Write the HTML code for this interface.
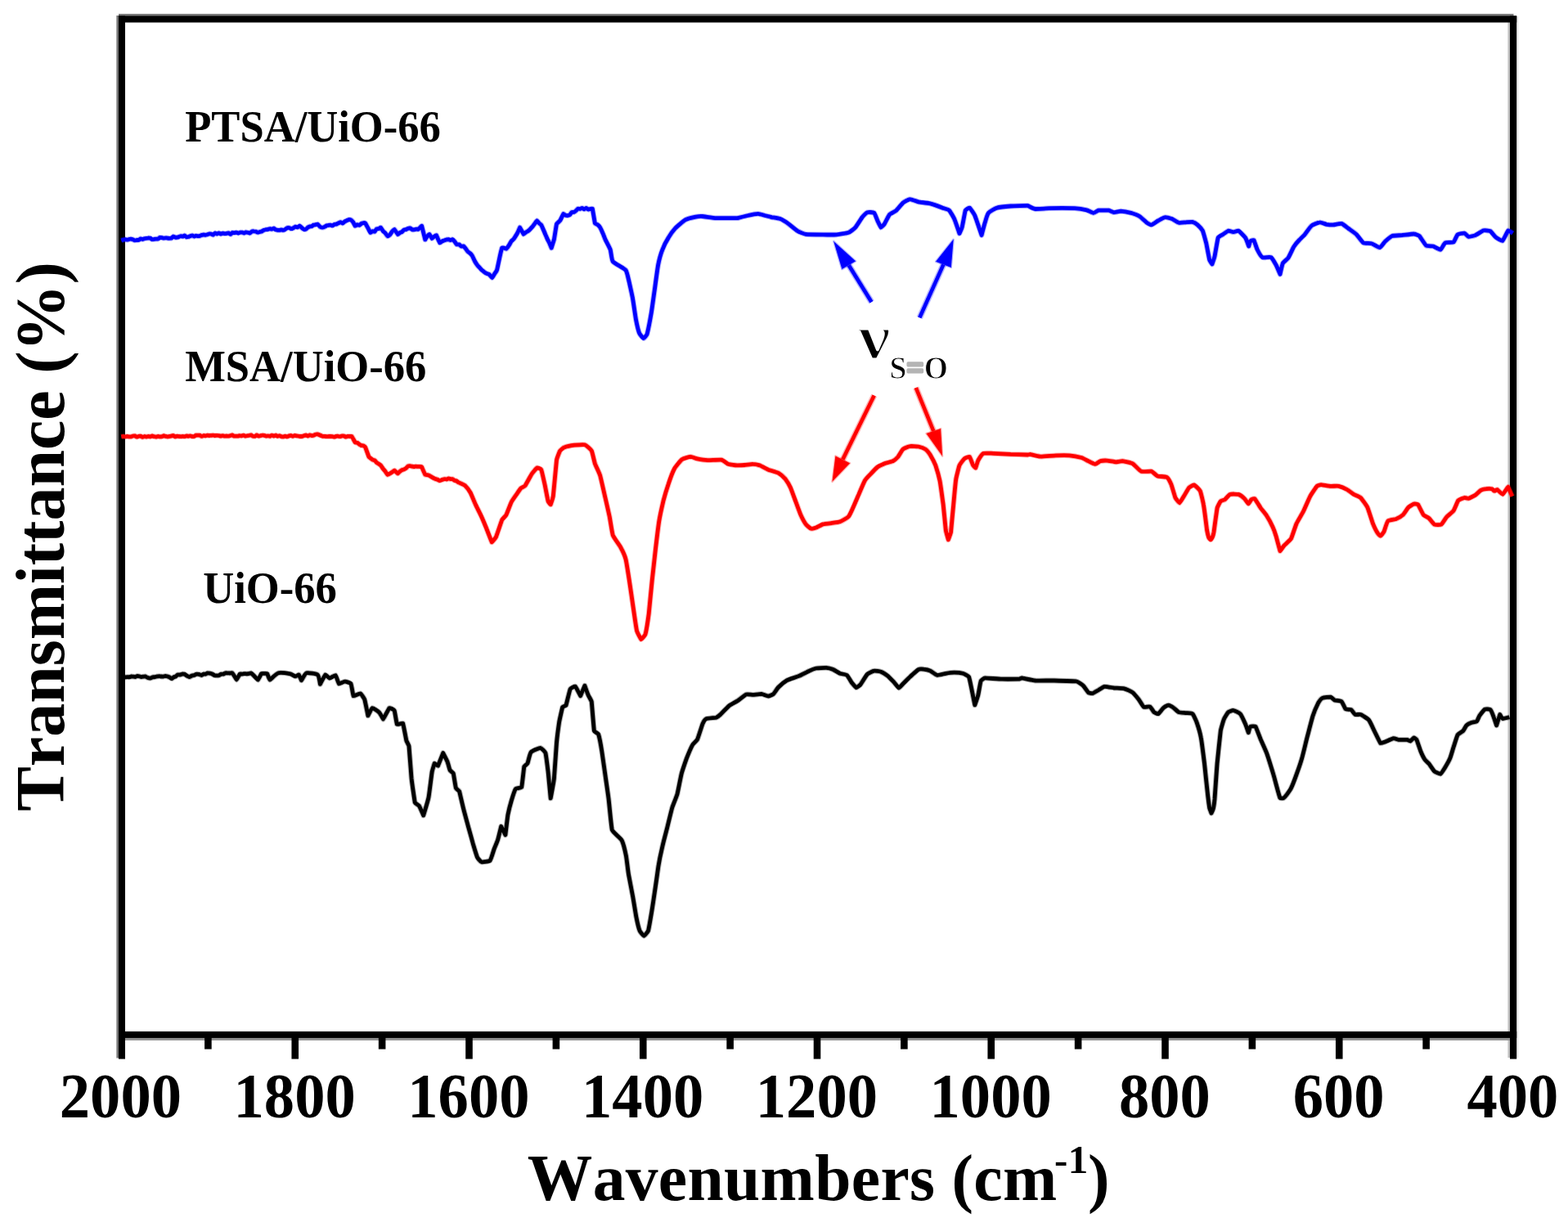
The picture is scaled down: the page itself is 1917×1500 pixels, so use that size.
<!DOCTYPE html>
<html lang="en"><head><meta charset="utf-8"><title>FTIR spectra</title>
<style>
html,body{margin:0;padding:0;background:#fff;}
body{width:1917px;height:1500px;overflow:hidden;}
svg{display:block;filter:blur(0.55px);}
text{font-family:"Liberation Serif","DejaVu Serif",serif;font-weight:bold;fill:#000;font-kerning:none;stroke-linejoin:round;}
.c{fill:none;stroke-linejoin:round;stroke-linecap:butt;}
</style></head><body>
<svg width="1917" height="1500" viewBox="0 0 1917 1500">
<rect x="0" y="0" width="1917" height="1500" fill="#fff"/>
<g id="fringe">
<rect x="142.4" y="19" width="3" height="1274.5" fill="#757575"/>
<rect x="145" y="16.9" width="1705.5" height="3" fill="#787878"/>
<rect x="1843.4" y="27" width="3" height="1266" fill="#c0c0c0"/>
<rect x="1854" y="20" width="2.7" height="1273" fill="#efefef"/>
<rect x="153" y="1268" width="1693" height="3.9" fill="#909090"/>
</g>
<g id="frame" fill="#000">
<rect x="145" y="19.4" width="8" height="1275.2"/>
<rect x="1846" y="19.4" width="8.2" height="1275.2"/>
<rect x="145" y="19.4" width="1709.2" height="8.1"/>
<rect x="145" y="1260.9" width="1709.2" height="8"/>
</g>
<g id="ticks" stroke="#000" stroke-width="8.60">
<line x1="254.38" y1="1265" x2="254.38" y2="1282.60"/>
<line x1="360.75" y1="1265" x2="360.75" y2="1294.60"/>
<line x1="467.12" y1="1265" x2="467.12" y2="1282.60"/>
<line x1="573.50" y1="1265" x2="573.50" y2="1294.60"/>
<line x1="679.88" y1="1265" x2="679.88" y2="1282.60"/>
<line x1="786.25" y1="1265" x2="786.25" y2="1294.60"/>
<line x1="892.62" y1="1265" x2="892.62" y2="1282.60"/>
<line x1="999.00" y1="1265" x2="999.00" y2="1294.60"/>
<line x1="1105.38" y1="1265" x2="1105.38" y2="1282.60"/>
<line x1="1211.75" y1="1265" x2="1211.75" y2="1294.60"/>
<line x1="1318.12" y1="1265" x2="1318.12" y2="1282.60"/>
<line x1="1424.50" y1="1265" x2="1424.50" y2="1294.60"/>
<line x1="1530.88" y1="1265" x2="1530.88" y2="1282.60"/>
<line x1="1637.25" y1="1265" x2="1637.25" y2="1294.60"/>
<line x1="1743.62" y1="1265" x2="1743.62" y2="1282.60"/>
</g>
<g id="black" class="c" stroke="#000">
<path stroke-width="6.80" stroke-opacity="0.30" d="M148.3 828.0C148.3 828.0 150.4 827.9 150.9 827.9C151.3 827.9 152.9 827.9 153.4 827.9C153.8 827.8 155.4 827.7 155.9 827.7C156.3 827.7 157.9 827.8 158.4 827.7C158.8 827.6 160.4 827.0 160.9 826.9C161.3 826.9 162.8 827.2 163.3 827.2C163.7 827.3 165.2 827.5 165.6 827.5C166.1 827.4 167.6 826.4 168.0 826.4C168.5 826.3 170.0 826.8 170.4 826.9C170.8 827.0 172.4 827.5 172.8 827.5C173.2 827.5 174.7 827.2 175.2 827.1C175.6 827.1 177.1 826.8 177.6 826.9C178.0 827.1 180.1 828.3 180.7 828.5C181.2 828.7 183.3 829.1 183.8 829.0C184.4 829.0 186.1 828.0 186.6 827.9C187.1 827.8 188.9 827.7 189.4 827.6C189.9 827.5 191.7 827.0 192.2 826.9C192.6 826.9 194.2 826.6 194.7 826.6C195.1 826.6 196.7 827.0 197.2 827.0C197.6 827.0 199.2 827.1 199.7 827.0C200.1 827.0 201.7 826.4 202.2 826.4C202.6 826.4 204.2 826.8 204.7 826.9C205.1 827.1 206.8 827.7 207.3 828.0C207.7 828.2 209.5 829.7 209.9 829.7C210.3 829.6 211.9 828.0 212.3 827.8C212.7 827.6 214.4 827.2 214.8 827.0C215.2 826.7 216.7 825.0 217.2 824.9C217.7 824.7 219.5 825.0 220.0 825.0C220.5 824.9 222.3 824.1 222.8 824.0C223.3 824.0 225.1 824.1 225.6 824.2C226.0 824.4 228.1 826.0 228.7 826.3C229.2 826.5 231.2 827.6 231.8 827.6C232.4 827.6 234.1 826.2 234.6 826.0C235.1 825.8 236.9 825.6 237.4 825.5C237.9 825.3 239.6 824.3 240.2 824.2C240.7 824.1 242.7 824.3 243.3 824.4C243.8 824.5 245.9 825.5 246.4 825.5C246.9 825.4 248.4 824.1 248.9 824.0C249.3 823.9 250.9 824.2 251.3 824.1C251.7 824.0 253.2 822.9 253.7 822.8C254.2 822.7 256.1 823.1 256.6 823.2C257.1 823.3 259.0 823.8 259.5 824.0C259.9 824.2 261.8 825.5 262.3 825.7C262.8 825.9 264.7 825.9 265.2 825.9C265.7 825.9 267.4 825.7 267.8 825.6C268.3 825.4 270.0 824.2 270.4 824.1C270.9 824.0 272.6 824.2 273.0 824.1C273.5 824.0 275.1 822.9 275.6 822.8C276.1 822.7 277.9 822.8 278.4 822.8C278.9 822.8 280.7 823.0 281.2 823.0C281.7 823.0 283.6 822.5 284.0 822.8C284.4 823.0 286.1 825.9 286.6 826.6C287.0 827.3 289.1 831.1 289.2 831.1C289.3 831.1 293.1 824.1 293.4 823.8C293.6 823.5 295.6 824.2 296.1 824.1C296.6 824.1 298.3 823.7 298.8 823.6C299.3 823.6 301.0 823.8 301.5 823.8C302.0 823.7 303.7 823.5 304.2 823.5C304.7 823.4 306.5 822.6 306.9 822.8C307.4 822.9 309.2 824.8 309.7 825.3C310.2 825.8 312.0 827.7 312.5 828.2C313.0 828.7 315.1 831.2 315.3 831.1C315.4 831.0 319.2 824.2 319.4 823.8C319.7 823.5 321.4 823.5 321.9 823.4C322.3 823.4 323.9 823.4 324.3 823.4C324.8 823.4 326.5 823.5 326.8 823.8C327.0 824.2 329.5 831.2 329.9 831.1C330.3 831.1 338.0 823.4 340.3 822.8C342.6 822.1 353.7 823.6 354.9 823.8C356.2 824.1 360.3 826.9 361.2 826.9C362.0 827.0 365.0 824.6 365.4 824.9C365.7 825.1 368.4 831.8 368.5 831.7C368.6 831.7 373.1 823.3 374.7 822.8C376.4 822.2 386.9 823.7 388.3 824.9C389.7 826.0 391.4 836.3 391.4 836.3C391.4 836.3 397.3 825.1 397.7 824.9C398.1 824.6 401.9 829.0 402.9 829.0C403.9 829.1 409.7 825.2 410.2 825.5C410.8 825.8 413.8 835.5 414.4 835.9C415.0 836.3 420.3 833.2 421.7 833.2C423.1 833.2 428.3 834.8 429.0 835.9C429.7 837.1 431.7 850.5 432.1 850.9C432.5 851.4 439.4 847.5 440.5 847.8C441.6 848.2 445.2 853.6 445.7 855.1C446.2 856.6 449.9 874.9 449.9 874.9C449.9 874.9 454.3 865.8 455.1 865.6C455.8 865.3 462.2 869.5 463.4 870.8C464.7 872.0 468.5 879.2 468.6 879.1C468.8 879.1 475.4 866.0 475.9 865.6C476.5 865.1 481.7 867.5 482.2 868.7C482.7 869.8 484.9 884.8 485.3 885.4C485.7 886.0 492.3 883.7 492.6 884.3C493.0 885.0 496.5 903.8 496.8 905.2C497.2 906.5 499.8 910.9 500.0 912.2C500.2 913.6 502.6 946.6 503.1 951.9C503.7 957.2 507.0 979.9 507.3 981.1C507.6 982.3 511.9 984.3 512.5 985.3C513.2 986.3 517.7 996.8 517.7 996.8C517.7 996.8 523.2 978.9 524.0 974.8C524.8 970.8 527.8 945.5 528.2 943.5C528.5 941.6 531.2 933.3 531.3 933.1C531.4 933.0 535.3 936.4 535.5 936.2C535.6 936.0 541.7 920.6 541.7 920.6C541.7 920.6 546.2 929.2 546.9 931.0C547.7 932.8 549.6 940.5 550.1 941.5C550.6 942.4 553.9 944.6 554.3 945.6C554.6 946.6 557.0 962.4 557.4 963.4C557.7 964.4 561.2 966.5 561.6 967.5C561.9 968.5 565.8 985.5 566.8 989.4C567.8 993.4 572.1 1009.0 573.0 1012.4C574.0 1015.8 577.4 1028.2 578.2 1031.2C579.1 1034.2 582.9 1046.6 583.5 1047.9C584.1 1049.2 587.4 1053.4 588.7 1053.7C590.0 1054.1 597.9 1053.3 599.1 1052.0C600.3 1050.8 603.6 1039.3 604.3 1037.4C605.0 1035.5 607.9 1028.9 608.5 1027.0C609.1 1025.1 612.7 1010.3 612.7 1010.3C612.7 1010.3 617.9 1020.7 617.9 1020.7C617.9 1020.7 620.5 998.8 621.0 995.7C621.6 992.7 624.4 981.7 625.2 979.0C626.0 976.3 629.6 965.5 630.4 964.4C631.2 963.3 637.3 963.4 637.7 962.3C638.1 961.3 640.6 938.3 640.8 937.3C641.1 936.3 644.6 934.1 645.0 933.1C645.5 932.1 647.7 921.3 649.2 919.5C650.6 917.8 659.4 914.3 660.7 914.3C661.9 914.4 666.4 919.1 666.9 920.6C667.4 922.1 669.6 939.4 670.1 943.5C670.5 947.7 673.2 975.9 673.2 975.9C673.2 975.9 676.9 956.2 677.4 951.9C677.8 947.5 680.1 912.6 680.5 908.1C680.9 903.5 683.1 886.4 683.6 883.0C684.2 879.6 687.5 865.0 687.8 864.3C688.1 863.5 691.6 862.9 692.0 862.2C692.3 861.4 696.6 843.5 697.2 842.3C697.7 841.2 702.9 838.8 703.4 839.2C704.0 839.6 709.7 850.7 709.7 850.7C709.7 850.7 714.9 838.2 714.9 838.2C714.9 838.2 718.4 848.1 719.1 849.6C719.7 851.2 723.0 856.3 723.3 858.0C723.5 859.6 726.1 892.3 726.4 893.5C726.6 894.6 731.2 896.5 731.6 897.6C732.0 898.8 735.2 914.7 735.8 918.5C736.4 922.3 739.2 942.5 740.0 947.7C740.7 953.0 743.5 971.7 744.1 976.9C744.8 982.2 747.4 1011.5 748.3 1014.5C749.3 1017.5 758.7 1024.5 760.2 1027.3C761.6 1030.0 764.7 1042.6 765.4 1046.1C766.1 1049.5 767.8 1064.9 768.5 1069.0C769.2 1073.1 772.9 1091.6 773.7 1096.1C774.5 1100.6 777.3 1118.1 777.9 1121.2C778.5 1124.2 781.5 1136.5 782.1 1137.9C782.6 1139.2 786.8 1144.1 787.3 1144.1C787.8 1144.1 792.0 1139.3 792.5 1137.9C792.9 1136.5 796.0 1119.1 796.7 1114.9C797.4 1110.8 800.1 1092.7 800.8 1087.8C801.6 1082.9 804.4 1062.4 805.0 1058.6C805.6 1054.8 808.3 1041.5 809.2 1037.7C810.0 1034.0 814.3 1017.2 815.5 1012.7C816.6 1008.2 820.8 990.7 821.7 987.6C822.6 984.6 827.1 974.0 828.0 970.9C828.8 967.9 832.3 949.4 833.2 945.9C834.1 942.5 838.3 930.2 839.4 927.1C840.6 924.1 846.0 911.8 846.8 910.4C847.5 909.1 851.9 905.3 852.6 903.9C853.3 902.5 858.4 886.4 858.9 885.1C859.4 883.9 861.8 879.4 863.1 878.9C864.3 878.3 874.5 877.5 875.6 877.2C876.7 876.8 880.0 874.2 880.9 873.4C881.7 872.6 889.6 864.3 891.3 862.9C893.0 861.6 899.9 857.9 901.7 856.7C903.6 855.5 910.8 849.5 912.2 849.0C913.6 848.4 919.0 849.4 920.5 849.4C922.0 849.3 929.4 848.2 930.9 848.3C932.5 848.5 938.1 851.0 939.3 851.0C940.5 851.0 944.6 849.1 945.6 848.3C946.5 847.5 950.5 841.3 951.8 840.0C953.1 838.7 960.1 832.8 962.2 831.6C964.4 830.5 974.5 827.4 976.8 826.4C979.2 825.4 987.9 820.8 989.4 820.2C990.8 819.5 996.1 817.3 997.7 817.0C999.3 816.7 1008.7 816.3 1010.2 816.4C1011.8 816.5 1017.1 817.9 1018.6 818.5C1020.0 819.1 1025.5 822.7 1026.9 823.3C1028.4 823.9 1034.1 824.4 1035.3 825.4C1036.5 826.3 1040.7 833.6 1041.5 834.8C1042.4 835.9 1046.1 840.5 1046.8 840.6C1047.4 840.7 1051.2 837.7 1052.0 836.8C1052.7 836.0 1059.1 825.5 1060.3 824.3C1061.5 823.1 1067.2 820.4 1068.7 820.2C1070.1 819.9 1075.6 820.7 1077.0 821.2C1078.4 821.7 1084.0 825.3 1085.4 826.4C1086.7 827.5 1091.5 832.5 1092.7 833.7C1093.8 835.0 1098.3 840.9 1098.9 841.0C1099.5 841.1 1103.2 836.7 1104.1 835.8C1105.1 834.9 1110.9 828.9 1112.5 827.5C1114.0 826.0 1121.9 819.0 1122.9 818.5C1123.9 817.9 1128.0 817.9 1129.2 818.1C1130.3 818.2 1136.1 819.5 1137.5 820.2C1138.9 820.8 1144.1 825.1 1145.9 825.4C1147.6 825.7 1154.4 823.6 1156.3 823.3C1158.2 823.0 1164.8 822.2 1166.7 822.2C1168.6 822.2 1175.7 822.9 1177.2 823.3C1178.6 823.7 1183.7 826.2 1184.5 827.5C1185.2 828.8 1187.1 838.6 1187.6 841.0C1188.1 843.5 1191.8 861.9 1191.8 861.9C1191.8 861.9 1195.4 851.7 1195.9 849.4C1196.5 847.1 1198.6 833.7 1199.1 832.7C1199.5 831.6 1203.1 829.0 1204.3 828.9C1205.4 828.8 1221.4 830.1 1225.2 830.2C1228.9 830.3 1245.4 830.2 1246.0 830.2C1246.6 830.1 1248.6 828.8 1249.2 828.9C1249.8 828.9 1262.9 831.7 1265.9 832.0C1269.0 832.2 1284.7 831.9 1288.9 832.0C1293.0 832.1 1314.2 832.7 1316.0 833.0C1317.7 833.3 1323.0 837.0 1324.3 838.2C1325.6 839.5 1329.8 846.0 1330.6 846.6C1331.3 847.2 1334.9 847.9 1335.8 847.6C1336.7 847.4 1341.8 844.2 1343.1 843.5C1344.4 842.7 1348.9 839.5 1350.4 839.3C1351.9 839.1 1359.8 840.7 1361.9 841.0C1364.0 841.2 1372.4 841.3 1374.4 841.8C1376.4 842.3 1383.2 845.4 1384.8 846.6C1386.4 847.8 1390.9 853.4 1392.1 854.9C1393.4 856.5 1397.4 863.7 1398.4 864.3C1399.4 865.0 1404.6 863.3 1405.7 863.9C1406.9 864.5 1410.1 869.9 1410.9 870.6C1411.7 871.2 1415.4 873.0 1416.1 872.7C1416.8 872.4 1421.4 866.2 1422.4 865.4C1423.4 864.6 1427.4 862.2 1428.7 862.2C1429.9 862.2 1433.9 864.7 1434.9 865.4C1436.0 866.1 1439.8 870.0 1441.2 870.6C1442.5 871.2 1448.0 871.4 1449.5 871.6C1451.0 871.8 1456.8 871.7 1457.9 872.7C1459.0 873.6 1462.4 881.1 1463.1 883.1C1463.8 885.1 1467.7 898.4 1468.3 901.9C1469.0 905.3 1471.8 927.5 1472.5 933.2C1473.1 938.8 1476.3 970.1 1476.7 972.8C1477.0 975.5 1478.5 986.7 1478.7 987.9C1479.0 989.0 1481.0 994.1 1481.0 994.1C1481.0 994.1 1483.1 989.5 1483.3 988.5C1483.6 987.4 1484.8 979.1 1485.0 977.0C1485.2 974.9 1487.5 940.3 1488.1 933.2C1488.8 926.0 1491.9 896.2 1492.3 893.5C1492.7 890.8 1495.8 880.6 1496.5 878.9C1497.1 877.3 1500.8 871.4 1501.7 870.6C1502.6 869.8 1506.8 868.3 1507.9 868.5C1509.1 868.7 1515.2 871.4 1516.3 872.7C1517.4 873.9 1521.8 883.4 1522.6 885.2C1523.4 887.0 1526.3 895.6 1526.3 895.6C1526.3 895.6 1528.1 888.9 1528.8 888.3C1529.5 887.8 1534.5 887.6 1535.1 888.3C1535.6 889.0 1540.2 901.2 1541.3 904.0C1542.5 906.8 1547.5 917.6 1548.6 920.7C1549.8 923.7 1555.1 941.0 1555.9 943.6C1556.7 946.2 1559.3 955.6 1560.0 958.3C1560.7 960.9 1564.8 975.2 1565.0 975.6C1565.3 976.1 1568.5 976.0 1569.2 975.6C1569.8 975.3 1572.7 972.0 1573.4 971.1C1574.0 970.3 1577.7 965.1 1578.4 963.6C1579.1 962.2 1583.9 950.0 1585.0 946.9C1586.1 943.9 1590.7 930.6 1591.7 926.9C1592.8 923.2 1597.2 904.7 1598.4 900.2C1599.6 895.7 1604.1 878.1 1605.1 875.1C1606.0 872.2 1611.1 860.5 1611.7 859.3C1612.4 858.1 1615.5 854.0 1616.8 853.4C1618.0 852.9 1625.7 851.9 1626.8 852.1C1627.9 852.3 1630.7 855.5 1631.8 856.0C1632.8 856.4 1638.9 856.7 1640.1 857.6C1641.3 858.6 1644.2 866.0 1645.1 866.8C1646.0 867.6 1650.8 867.0 1651.8 867.6C1652.9 868.2 1655.7 872.9 1656.8 873.5C1657.9 874.0 1662.4 873.0 1663.5 873.5C1664.6 873.9 1672.1 878.5 1673.5 880.2C1674.9 881.8 1679.0 891.1 1680.2 893.5C1681.4 895.9 1687.2 908.0 1687.7 908.5C1688.2 909.0 1692.5 907.2 1693.5 906.9C1694.6 906.5 1702.3 902.9 1703.6 902.7C1704.8 902.5 1709.0 904.2 1710.2 904.4C1711.5 904.5 1719.4 904.3 1720.3 904.4C1721.1 904.5 1723.8 906.2 1724.4 906.0C1725.1 905.8 1728.1 902.0 1728.6 901.9C1729.0 901.8 1731.6 903.7 1731.9 904.4C1732.3 905.0 1736.2 916.7 1736.9 918.5C1737.7 920.4 1741.2 927.5 1742.0 928.6C1742.7 929.6 1746.1 932.6 1747.0 933.6C1747.8 934.6 1752.5 941.8 1753.6 942.8C1754.7 943.7 1760.2 946.4 1761.1 946.1C1762.1 945.8 1766.0 939.3 1767.0 937.7C1767.9 936.2 1772.0 928.9 1772.8 926.9C1773.7 924.8 1776.2 915.9 1777.0 913.5C1777.8 911.1 1781.3 899.8 1782.0 898.5C1782.8 897.2 1787.7 894.5 1788.7 893.5C1789.7 892.5 1792.0 887.7 1792.9 886.8C1793.7 886.0 1797.6 883.9 1798.7 883.5C1799.8 883.0 1804.4 882.6 1805.4 881.8C1806.3 881.0 1808.0 876.3 1808.7 875.1C1809.5 874.0 1814.4 867.7 1815.4 867.1C1816.4 866.6 1821.3 866.9 1822.1 867.6C1822.9 868.4 1825.6 875.1 1826.2 876.8C1826.9 878.5 1829.6 886.8 1829.6 886.8C1829.6 886.8 1833.8 873.5 1833.8 873.5C1833.8 873.5 1836.2 878.2 1837.1 878.5C1838.0 878.7 1845.4 876.8 1845.4 876.8"/>
<path stroke-width="4.80" d="M148.3 828.0C148.3 828.0 150.4 827.9 150.9 827.9C151.3 827.9 152.9 827.9 153.4 827.9C153.8 827.8 155.4 827.7 155.9 827.7C156.3 827.7 157.9 827.8 158.4 827.7C158.8 827.6 160.4 827.0 160.9 826.9C161.3 826.9 162.8 827.2 163.3 827.2C163.7 827.3 165.2 827.5 165.6 827.5C166.1 827.4 167.6 826.4 168.0 826.4C168.5 826.3 170.0 826.8 170.4 826.9C170.8 827.0 172.4 827.5 172.8 827.5C173.2 827.5 174.7 827.2 175.2 827.1C175.6 827.1 177.1 826.8 177.6 826.9C178.0 827.1 180.1 828.3 180.7 828.5C181.2 828.7 183.3 829.1 183.8 829.0C184.4 829.0 186.1 828.0 186.6 827.9C187.1 827.8 188.9 827.7 189.4 827.6C189.9 827.5 191.7 827.0 192.2 826.9C192.6 826.9 194.2 826.6 194.7 826.6C195.1 826.6 196.7 827.0 197.2 827.0C197.6 827.0 199.2 827.1 199.7 827.0C200.1 827.0 201.7 826.4 202.2 826.4C202.6 826.4 204.2 826.8 204.7 826.9C205.1 827.1 206.8 827.7 207.3 828.0C207.7 828.2 209.5 829.7 209.9 829.7C210.3 829.6 211.9 828.0 212.3 827.8C212.7 827.6 214.4 827.2 214.8 827.0C215.2 826.7 216.7 825.0 217.2 824.9C217.7 824.7 219.5 825.0 220.0 825.0C220.5 824.9 222.3 824.1 222.8 824.0C223.3 824.0 225.1 824.1 225.6 824.2C226.0 824.4 228.1 826.0 228.7 826.3C229.2 826.5 231.2 827.6 231.8 827.6C232.4 827.6 234.1 826.2 234.6 826.0C235.1 825.8 236.9 825.6 237.4 825.5C237.9 825.3 239.6 824.3 240.2 824.2C240.7 824.1 242.7 824.3 243.3 824.4C243.8 824.5 245.9 825.5 246.4 825.5C246.9 825.4 248.4 824.1 248.9 824.0C249.3 823.9 250.9 824.2 251.3 824.1C251.7 824.0 253.2 822.9 253.7 822.8C254.2 822.7 256.1 823.1 256.6 823.2C257.1 823.3 259.0 823.8 259.5 824.0C259.9 824.2 261.8 825.5 262.3 825.7C262.8 825.9 264.7 825.9 265.2 825.9C265.7 825.9 267.4 825.7 267.8 825.6C268.3 825.4 270.0 824.2 270.4 824.1C270.9 824.0 272.6 824.2 273.0 824.1C273.5 824.0 275.1 822.9 275.6 822.8C276.1 822.7 277.9 822.8 278.4 822.8C278.9 822.8 280.7 823.0 281.2 823.0C281.7 823.0 283.6 822.5 284.0 822.8C284.4 823.0 286.1 825.9 286.6 826.6C287.0 827.3 289.1 831.1 289.2 831.1C289.3 831.1 293.1 824.1 293.4 823.8C293.6 823.5 295.6 824.2 296.1 824.1C296.6 824.1 298.3 823.7 298.8 823.6C299.3 823.6 301.0 823.8 301.5 823.8C302.0 823.7 303.7 823.5 304.2 823.5C304.7 823.4 306.5 822.6 306.9 822.8C307.4 822.9 309.2 824.8 309.7 825.3C310.2 825.8 312.0 827.7 312.5 828.2C313.0 828.7 315.1 831.2 315.3 831.1C315.4 831.0 319.2 824.2 319.4 823.8C319.7 823.5 321.4 823.5 321.9 823.4C322.3 823.4 323.9 823.4 324.3 823.4C324.8 823.4 326.5 823.5 326.8 823.8C327.0 824.2 329.5 831.2 329.9 831.1C330.3 831.1 338.0 823.4 340.3 822.8C342.6 822.1 353.7 823.6 354.9 823.8C356.2 824.1 360.3 826.9 361.2 826.9C362.0 827.0 365.0 824.6 365.4 824.9C365.7 825.1 368.4 831.8 368.5 831.7C368.6 831.7 373.1 823.3 374.7 822.8C376.4 822.2 386.9 823.7 388.3 824.9C389.7 826.0 391.4 836.3 391.4 836.3C391.4 836.3 397.3 825.1 397.7 824.9C398.1 824.6 401.9 829.0 402.9 829.0C403.9 829.1 409.7 825.2 410.2 825.5C410.8 825.8 413.8 835.5 414.4 835.9C415.0 836.3 420.3 833.2 421.7 833.2C423.1 833.2 428.3 834.8 429.0 835.9C429.7 837.1 431.7 850.5 432.1 850.9C432.5 851.4 439.4 847.5 440.5 847.8C441.6 848.2 445.2 853.6 445.7 855.1C446.2 856.6 449.9 874.9 449.9 874.9C449.9 874.9 454.3 865.8 455.1 865.6C455.8 865.3 462.2 869.5 463.4 870.8C464.7 872.0 468.5 879.2 468.6 879.1C468.8 879.1 475.4 866.0 475.9 865.6C476.5 865.1 481.7 867.5 482.2 868.7C482.7 869.8 484.9 884.8 485.3 885.4C485.7 886.0 492.3 883.7 492.6 884.3C493.0 885.0 496.5 903.8 496.8 905.2C497.2 906.5 499.8 910.9 500.0 912.2C500.2 913.6 502.6 946.6 503.1 951.9C503.7 957.2 507.0 979.9 507.3 981.1C507.6 982.3 511.9 984.3 512.5 985.3C513.2 986.3 517.7 996.8 517.7 996.8C517.7 996.8 523.2 978.9 524.0 974.8C524.8 970.8 527.8 945.5 528.2 943.5C528.5 941.6 531.2 933.3 531.3 933.1C531.4 933.0 535.3 936.4 535.5 936.2C535.6 936.0 541.7 920.6 541.7 920.6C541.7 920.6 546.2 929.2 546.9 931.0C547.7 932.8 549.6 940.5 550.1 941.5C550.6 942.4 553.9 944.6 554.3 945.6C554.6 946.6 557.0 962.4 557.4 963.4C557.7 964.4 561.2 966.5 561.6 967.5C561.9 968.5 565.8 985.5 566.8 989.4C567.8 993.4 572.1 1009.0 573.0 1012.4C574.0 1015.8 577.4 1028.2 578.2 1031.2C579.1 1034.2 582.9 1046.6 583.5 1047.9C584.1 1049.2 587.4 1053.4 588.7 1053.7C590.0 1054.1 597.9 1053.3 599.1 1052.0C600.3 1050.8 603.6 1039.3 604.3 1037.4C605.0 1035.5 607.9 1028.9 608.5 1027.0C609.1 1025.1 612.7 1010.3 612.7 1010.3C612.7 1010.3 617.9 1020.7 617.9 1020.7C617.9 1020.7 620.5 998.8 621.0 995.7C621.6 992.7 624.4 981.7 625.2 979.0C626.0 976.3 629.6 965.5 630.4 964.4C631.2 963.3 637.3 963.4 637.7 962.3C638.1 961.3 640.6 938.3 640.8 937.3C641.1 936.3 644.6 934.1 645.0 933.1C645.5 932.1 647.7 921.3 649.2 919.5C650.6 917.8 659.4 914.3 660.7 914.3C661.9 914.4 666.4 919.1 666.9 920.6C667.4 922.1 669.6 939.4 670.1 943.5C670.5 947.7 673.2 975.9 673.2 975.9C673.2 975.9 676.9 956.2 677.4 951.9C677.8 947.5 680.1 912.6 680.5 908.1C680.9 903.5 683.1 886.4 683.6 883.0C684.2 879.6 687.5 865.0 687.8 864.3C688.1 863.5 691.6 862.9 692.0 862.2C692.3 861.4 696.6 843.5 697.2 842.3C697.7 841.2 702.9 838.8 703.4 839.2C704.0 839.6 709.7 850.7 709.7 850.7C709.7 850.7 714.9 838.2 714.9 838.2C714.9 838.2 718.4 848.1 719.1 849.6C719.7 851.2 723.0 856.3 723.3 858.0C723.5 859.6 726.1 892.3 726.4 893.5C726.6 894.6 731.2 896.5 731.6 897.6C732.0 898.8 735.2 914.7 735.8 918.5C736.4 922.3 739.2 942.5 740.0 947.7C740.7 953.0 743.5 971.7 744.1 976.9C744.8 982.2 747.4 1011.5 748.3 1014.5C749.3 1017.5 758.7 1024.5 760.2 1027.3C761.6 1030.0 764.7 1042.6 765.4 1046.1C766.1 1049.5 767.8 1064.9 768.5 1069.0C769.2 1073.1 772.9 1091.6 773.7 1096.1C774.5 1100.6 777.3 1118.1 777.9 1121.2C778.5 1124.2 781.5 1136.5 782.1 1137.9C782.6 1139.2 786.8 1144.1 787.3 1144.1C787.8 1144.1 792.0 1139.3 792.5 1137.9C792.9 1136.5 796.0 1119.1 796.7 1114.9C797.4 1110.8 800.1 1092.7 800.8 1087.8C801.6 1082.9 804.4 1062.4 805.0 1058.6C805.6 1054.8 808.3 1041.5 809.2 1037.7C810.0 1034.0 814.3 1017.2 815.5 1012.7C816.6 1008.2 820.8 990.7 821.7 987.6C822.6 984.6 827.1 974.0 828.0 970.9C828.8 967.9 832.3 949.4 833.2 945.9C834.1 942.5 838.3 930.2 839.4 927.1C840.6 924.1 846.0 911.8 846.8 910.4C847.5 909.1 851.9 905.3 852.6 903.9C853.3 902.5 858.4 886.4 858.9 885.1C859.4 883.9 861.8 879.4 863.1 878.9C864.3 878.3 874.5 877.5 875.6 877.2C876.7 876.8 880.0 874.2 880.9 873.4C881.7 872.6 889.6 864.3 891.3 862.9C893.0 861.6 899.9 857.9 901.7 856.7C903.6 855.5 910.8 849.5 912.2 849.0C913.6 848.4 919.0 849.4 920.5 849.4C922.0 849.3 929.4 848.2 930.9 848.3C932.5 848.5 938.1 851.0 939.3 851.0C940.5 851.0 944.6 849.1 945.6 848.3C946.5 847.5 950.5 841.3 951.8 840.0C953.1 838.7 960.1 832.8 962.2 831.6C964.4 830.5 974.5 827.4 976.8 826.4C979.2 825.4 987.9 820.8 989.4 820.2C990.8 819.5 996.1 817.3 997.7 817.0C999.3 816.7 1008.7 816.3 1010.2 816.4C1011.8 816.5 1017.1 817.9 1018.6 818.5C1020.0 819.1 1025.5 822.7 1026.9 823.3C1028.4 823.9 1034.1 824.4 1035.3 825.4C1036.5 826.3 1040.7 833.6 1041.5 834.8C1042.4 835.9 1046.1 840.5 1046.8 840.6C1047.4 840.7 1051.2 837.7 1052.0 836.8C1052.7 836.0 1059.1 825.5 1060.3 824.3C1061.5 823.1 1067.2 820.4 1068.7 820.2C1070.1 819.9 1075.6 820.7 1077.0 821.2C1078.4 821.7 1084.0 825.3 1085.4 826.4C1086.7 827.5 1091.5 832.5 1092.7 833.7C1093.8 835.0 1098.3 840.9 1098.9 841.0C1099.5 841.1 1103.2 836.7 1104.1 835.8C1105.1 834.9 1110.9 828.9 1112.5 827.5C1114.0 826.0 1121.9 819.0 1122.9 818.5C1123.9 817.9 1128.0 817.9 1129.2 818.1C1130.3 818.2 1136.1 819.5 1137.5 820.2C1138.9 820.8 1144.1 825.1 1145.9 825.4C1147.6 825.7 1154.4 823.6 1156.3 823.3C1158.2 823.0 1164.8 822.2 1166.7 822.2C1168.6 822.2 1175.7 822.9 1177.2 823.3C1178.6 823.7 1183.7 826.2 1184.5 827.5C1185.2 828.8 1187.1 838.6 1187.6 841.0C1188.1 843.5 1191.8 861.9 1191.8 861.9C1191.8 861.9 1195.4 851.7 1195.9 849.4C1196.5 847.1 1198.6 833.7 1199.1 832.7C1199.5 831.6 1203.1 829.0 1204.3 828.9C1205.4 828.8 1221.4 830.1 1225.2 830.2C1228.9 830.3 1245.4 830.2 1246.0 830.2C1246.6 830.1 1248.6 828.8 1249.2 828.9C1249.8 828.9 1262.9 831.7 1265.9 832.0C1269.0 832.2 1284.7 831.9 1288.9 832.0C1293.0 832.1 1314.2 832.7 1316.0 833.0C1317.7 833.3 1323.0 837.0 1324.3 838.2C1325.6 839.5 1329.8 846.0 1330.6 846.6C1331.3 847.2 1334.9 847.9 1335.8 847.6C1336.7 847.4 1341.8 844.2 1343.1 843.5C1344.4 842.7 1348.9 839.5 1350.4 839.3C1351.9 839.1 1359.8 840.7 1361.9 841.0C1364.0 841.2 1372.4 841.3 1374.4 841.8C1376.4 842.3 1383.2 845.4 1384.8 846.6C1386.4 847.8 1390.9 853.4 1392.1 854.9C1393.4 856.5 1397.4 863.7 1398.4 864.3C1399.4 865.0 1404.6 863.3 1405.7 863.9C1406.9 864.5 1410.1 869.9 1410.9 870.6C1411.7 871.2 1415.4 873.0 1416.1 872.7C1416.8 872.4 1421.4 866.2 1422.4 865.4C1423.4 864.6 1427.4 862.2 1428.7 862.2C1429.9 862.2 1433.9 864.7 1434.9 865.4C1436.0 866.1 1439.8 870.0 1441.2 870.6C1442.5 871.2 1448.0 871.4 1449.5 871.6C1451.0 871.8 1456.8 871.7 1457.9 872.7C1459.0 873.6 1462.4 881.1 1463.1 883.1C1463.8 885.1 1467.7 898.4 1468.3 901.9C1469.0 905.3 1471.8 927.5 1472.5 933.2C1473.1 938.8 1476.3 970.1 1476.7 972.8C1477.0 975.5 1478.5 986.7 1478.7 987.9C1479.0 989.0 1481.0 994.1 1481.0 994.1C1481.0 994.1 1483.1 989.5 1483.3 988.5C1483.6 987.4 1484.8 979.1 1485.0 977.0C1485.2 974.9 1487.5 940.3 1488.1 933.2C1488.8 926.0 1491.9 896.2 1492.3 893.5C1492.7 890.8 1495.8 880.6 1496.5 878.9C1497.1 877.3 1500.8 871.4 1501.7 870.6C1502.6 869.8 1506.8 868.3 1507.9 868.5C1509.1 868.7 1515.2 871.4 1516.3 872.7C1517.4 873.9 1521.8 883.4 1522.6 885.2C1523.4 887.0 1526.3 895.6 1526.3 895.6C1526.3 895.6 1528.1 888.9 1528.8 888.3C1529.5 887.8 1534.5 887.6 1535.1 888.3C1535.6 889.0 1540.2 901.2 1541.3 904.0C1542.5 906.8 1547.5 917.6 1548.6 920.7C1549.8 923.7 1555.1 941.0 1555.9 943.6C1556.7 946.2 1559.3 955.6 1560.0 958.3C1560.7 960.9 1564.8 975.2 1565.0 975.6C1565.3 976.1 1568.5 976.0 1569.2 975.6C1569.8 975.3 1572.7 972.0 1573.4 971.1C1574.0 970.3 1577.7 965.1 1578.4 963.6C1579.1 962.2 1583.9 950.0 1585.0 946.9C1586.1 943.9 1590.7 930.6 1591.7 926.9C1592.8 923.2 1597.2 904.7 1598.4 900.2C1599.6 895.7 1604.1 878.1 1605.1 875.1C1606.0 872.2 1611.1 860.5 1611.7 859.3C1612.4 858.1 1615.5 854.0 1616.8 853.4C1618.0 852.9 1625.7 851.9 1626.8 852.1C1627.9 852.3 1630.7 855.5 1631.8 856.0C1632.8 856.4 1638.9 856.7 1640.1 857.6C1641.3 858.6 1644.2 866.0 1645.1 866.8C1646.0 867.6 1650.8 867.0 1651.8 867.6C1652.9 868.2 1655.7 872.9 1656.8 873.5C1657.9 874.0 1662.4 873.0 1663.5 873.5C1664.6 873.9 1672.1 878.5 1673.5 880.2C1674.9 881.8 1679.0 891.1 1680.2 893.5C1681.4 895.9 1687.2 908.0 1687.7 908.5C1688.2 909.0 1692.5 907.2 1693.5 906.9C1694.6 906.5 1702.3 902.9 1703.6 902.7C1704.8 902.5 1709.0 904.2 1710.2 904.4C1711.5 904.5 1719.4 904.3 1720.3 904.4C1721.1 904.5 1723.8 906.2 1724.4 906.0C1725.1 905.8 1728.1 902.0 1728.6 901.9C1729.0 901.8 1731.6 903.7 1731.9 904.4C1732.3 905.0 1736.2 916.7 1736.9 918.5C1737.7 920.4 1741.2 927.5 1742.0 928.6C1742.7 929.6 1746.1 932.6 1747.0 933.6C1747.8 934.6 1752.5 941.8 1753.6 942.8C1754.7 943.7 1760.2 946.4 1761.1 946.1C1762.1 945.8 1766.0 939.3 1767.0 937.7C1767.9 936.2 1772.0 928.9 1772.8 926.9C1773.7 924.8 1776.2 915.9 1777.0 913.5C1777.8 911.1 1781.3 899.8 1782.0 898.5C1782.8 897.2 1787.7 894.5 1788.7 893.5C1789.7 892.5 1792.0 887.7 1792.9 886.8C1793.7 886.0 1797.6 883.9 1798.7 883.5C1799.8 883.0 1804.4 882.6 1805.4 881.8C1806.3 881.0 1808.0 876.3 1808.7 875.1C1809.5 874.0 1814.4 867.7 1815.4 867.1C1816.4 866.6 1821.3 866.9 1822.1 867.6C1822.9 868.4 1825.6 875.1 1826.2 876.8C1826.9 878.5 1829.6 886.8 1829.6 886.8C1829.6 886.8 1833.8 873.5 1833.8 873.5C1833.8 873.5 1836.2 878.2 1837.1 878.5C1838.0 878.7 1845.4 876.8 1845.4 876.8"/>
</g>
<g id="red" class="c" stroke="#ff0000">
<path stroke-width="6.80" stroke-opacity="0.30" d="M148.3 533.8C148.3 533.8 150.3 533.4 150.7 533.4C151.1 533.4 152.6 533.8 153.1 533.8C153.5 533.9 155.0 533.5 155.4 533.5C155.9 533.5 157.4 533.9 157.8 533.9C158.2 533.9 159.7 534.0 160.1 533.9C160.6 533.8 162.1 533.1 162.5 533.0C162.9 532.9 164.4 532.8 164.9 532.9C165.3 533.0 166.8 534.2 167.2 534.2C167.7 534.2 169.2 533.3 169.6 533.3C170.0 533.2 171.5 533.1 171.9 533.2C172.3 533.3 173.8 534.4 174.3 534.4C174.7 534.4 176.2 533.6 176.7 533.5C177.1 533.5 178.6 534.1 179.0 534.1C179.4 534.1 180.9 533.5 181.4 533.5C181.8 533.5 183.3 533.8 183.7 533.8C184.2 533.7 185.6 533.0 186.1 533.0C186.5 532.9 188.0 533.6 188.4 533.7C188.9 533.8 190.4 534.1 190.8 534.1C191.2 534.0 192.7 533.5 193.2 533.5C193.6 533.5 195.1 533.8 195.5 533.8C195.9 533.8 197.5 533.8 197.9 533.7C198.3 533.6 199.8 532.7 200.2 532.7C200.7 532.7 202.2 533.3 202.6 533.4C203.0 533.5 204.5 533.8 204.9 533.8C205.3 533.8 206.8 533.5 207.2 533.5C207.6 533.4 209.1 533.0 209.6 533.0C210.0 532.9 211.5 532.4 211.9 532.5C212.3 532.6 213.8 533.7 214.2 533.8C214.6 533.8 216.1 533.1 216.5 533.1C216.9 533.1 218.4 533.4 218.8 533.5C219.2 533.5 220.7 533.7 221.1 533.7C221.6 533.7 223.0 533.4 223.5 533.4C223.9 533.4 225.4 533.7 225.8 533.7C226.2 533.6 227.7 532.8 228.1 532.8C228.5 532.8 230.0 533.4 230.4 533.4C230.9 533.4 232.3 532.8 232.7 532.8C233.2 532.8 234.6 533.5 235.1 533.5C235.5 533.6 237.0 533.5 237.4 533.4C237.8 533.3 239.3 532.2 239.7 532.1C240.1 532.0 241.6 532.1 242.0 532.1C242.4 532.2 243.9 532.1 244.3 532.2C244.7 532.3 246.2 533.4 246.6 533.4C247.1 533.4 248.6 532.6 249.0 532.5C249.4 532.5 250.9 532.8 251.3 532.8C251.7 532.8 253.2 532.2 253.6 532.2C254.0 532.2 255.5 532.5 255.9 532.5C256.3 532.5 257.8 532.3 258.2 532.3C258.7 532.2 260.1 532.2 260.6 532.2C261.0 532.2 262.5 532.5 262.9 532.5C263.3 532.5 264.8 532.3 265.2 532.3C265.6 532.3 267.1 532.4 267.5 532.5C267.9 532.6 269.4 533.0 269.8 533.0C270.3 533.0 271.7 532.7 272.2 532.7C272.6 532.7 274.1 533.1 274.5 533.1C274.9 533.1 276.4 533.0 276.8 533.0C277.2 533.0 278.7 533.2 279.1 533.2C279.5 533.2 281.0 532.8 281.4 532.7C281.8 532.6 283.3 531.9 283.7 531.9C284.2 532.0 285.7 532.9 286.1 533.1C286.5 533.2 288.0 533.2 288.4 533.2C288.8 533.2 290.3 533.2 290.7 533.2C291.1 533.1 292.6 532.7 293.0 532.6C293.4 532.6 294.9 532.9 295.3 532.9C295.8 532.8 297.2 532.1 297.7 532.1C298.1 532.1 299.6 533.0 300.0 533.1C300.4 533.2 301.9 532.8 302.3 532.7C302.7 532.6 304.2 532.3 304.6 532.3C305.0 532.2 306.5 531.8 306.9 531.9C307.3 532.0 308.8 533.1 309.2 533.2C309.6 533.3 311.2 533.5 311.6 533.4C312.0 533.3 313.4 532.0 313.9 532.0C314.3 532.0 315.8 533.1 316.2 533.2C316.6 533.2 318.1 532.6 318.5 532.6C318.9 532.5 320.4 532.2 320.8 532.2C321.3 532.1 322.7 532.3 323.2 532.4C323.6 532.5 325.1 533.1 325.5 533.2C325.9 533.2 327.4 532.7 327.8 532.8C328.2 532.8 329.7 533.5 330.1 533.4C330.5 533.3 332.0 532.1 332.4 532.1C332.9 532.1 334.3 533.0 334.7 533.0C335.2 533.1 336.6 532.1 337.1 532.2C337.5 532.2 339.0 533.2 339.4 533.3C339.8 533.3 341.3 532.7 341.7 532.7C342.1 532.7 343.6 533.5 344.0 533.6C344.4 533.7 345.9 533.9 346.3 533.8C346.8 533.8 348.2 533.1 348.7 533.1C349.1 533.1 350.5 533.9 351.0 533.9C351.4 533.9 352.9 533.0 353.3 532.8C353.7 532.7 355.2 532.5 355.6 532.5C356.0 532.5 357.5 533.4 357.9 533.4C358.4 533.4 359.8 532.5 360.3 532.5C360.7 532.4 362.2 532.7 362.6 532.8C363.0 532.9 364.5 533.1 364.9 533.2C365.3 533.2 366.8 533.5 367.2 533.5C367.6 533.5 369.1 533.5 369.5 533.4C369.9 533.3 371.5 532.6 371.9 532.5C372.3 532.4 373.8 532.0 374.2 532.0C374.6 532.1 376.1 533.1 376.6 533.0C377.0 533.0 378.5 531.9 378.9 531.8C379.4 531.8 380.8 532.5 381.3 532.6C381.7 532.6 383.2 532.3 383.6 532.1C384.0 532.0 385.5 531.1 386.0 531.0C386.4 530.9 387.9 530.8 388.3 530.9C388.7 531.0 390.9 531.8 391.4 532.1C392.0 532.3 394.2 533.3 394.6 533.4C395.0 533.5 396.5 533.4 396.9 533.4C397.4 533.4 398.9 533.6 399.3 533.6C399.7 533.6 401.2 533.6 401.7 533.5C402.1 533.5 403.6 533.5 404.0 533.5C404.4 533.5 406.0 533.5 406.4 533.6C406.8 533.6 408.3 534.1 408.8 534.1C409.2 534.1 410.7 533.5 411.1 533.4C411.5 533.3 413.1 533.2 413.5 533.3C413.9 533.3 415.4 533.8 415.8 533.7C416.3 533.7 417.8 533.0 418.2 533.0C418.6 532.9 420.2 533.0 420.6 533.1C421.0 533.2 422.5 534.1 422.9 534.1C423.4 534.2 424.9 533.5 425.3 533.4C425.7 533.4 427.2 533.5 427.7 533.5C428.1 533.5 429.8 533.1 430.0 533.4C430.3 533.7 433.9 540.3 434.2 540.7C434.5 541.0 436.3 541.0 436.7 541.2C437.1 541.4 438.8 542.8 439.2 543.1C439.7 543.4 441.3 544.4 441.7 544.6C442.1 544.7 443.8 544.7 444.2 544.9C444.6 545.1 446.5 546.4 446.7 546.9C447.0 547.5 450.7 557.9 450.9 558.4C451.1 558.9 452.9 560.0 453.3 560.3C453.8 560.7 455.4 561.9 455.8 562.1C456.2 562.3 457.8 562.7 458.2 562.9C458.6 563.2 460.2 565.3 460.6 565.6C461.0 565.9 462.6 566.8 463.1 567.1C463.5 567.4 465.1 568.4 465.5 568.9C465.9 569.3 467.8 572.3 468.3 573.0C468.8 573.6 470.6 575.7 471.1 576.3C471.5 576.9 473.5 580.2 473.9 580.3C474.2 580.5 476.1 579.2 476.6 578.9C477.1 578.7 478.9 577.6 479.4 577.2C479.9 576.9 481.8 575.0 482.2 575.1C482.6 575.2 486.0 578.8 486.4 578.9C486.7 578.9 488.5 576.7 488.9 576.3C489.3 576.0 491.0 574.8 491.4 574.6C491.8 574.4 493.5 574.0 493.9 573.8C494.3 573.6 496.0 572.7 496.4 572.4C496.8 572.1 498.5 570.1 498.9 569.9C499.3 569.7 500.8 569.6 501.3 569.7C501.7 569.7 503.2 570.1 503.7 570.1C504.1 570.2 505.6 570.5 506.0 570.5C506.5 570.5 508.0 570.2 508.4 570.2C508.9 570.2 510.4 570.4 510.8 570.4C511.2 570.5 512.8 570.4 513.2 570.5C513.6 570.5 515.4 570.6 515.6 570.9C515.8 571.3 519.5 580.0 519.8 580.3C520.0 580.7 521.9 580.6 522.4 580.6C522.9 580.7 524.6 581.2 525.0 581.4C525.5 581.6 527.6 583.1 528.2 583.4C528.7 583.7 530.8 584.9 531.3 585.1C531.8 585.4 533.9 585.8 534.4 586.1C535.0 586.3 537.0 587.6 537.6 587.6C538.2 587.7 540.1 586.6 540.7 586.4C541.2 586.2 543.4 585.6 543.8 585.6C544.2 585.5 545.7 586.1 546.2 586.0C546.6 585.9 548.1 584.8 548.5 584.8C549.0 584.8 550.4 585.6 550.9 585.7C551.3 585.7 552.8 585.4 553.2 585.6C553.6 585.7 555.2 587.1 555.6 587.3C556.0 587.5 557.7 587.8 558.1 588.0C558.5 588.2 560.0 589.5 560.5 589.7C561.0 590.0 567.6 592.8 568.9 593.9C570.1 595.0 574.2 600.6 575.1 602.2C576.0 603.9 580.3 614.6 581.4 616.8C582.4 619.1 586.6 627.1 587.6 629.4C588.7 631.7 592.8 641.3 593.9 644.0C595.0 646.6 601.1 662.7 601.2 662.8C601.3 662.9 605.8 657.8 606.4 656.5C607.0 655.2 613.1 637.0 613.7 635.6C614.3 634.3 618.3 630.7 618.9 629.4C619.6 628.1 624.3 615.5 625.2 613.7C626.1 611.9 630.5 605.7 631.5 604.3C632.4 603.0 635.9 597.8 636.7 597.0C637.4 596.3 641.2 594.8 641.9 593.9C642.6 593.0 649.3 580.7 650.2 579.3C651.2 577.8 655.8 572.3 656.5 572.0C657.2 571.7 661.3 573.2 661.7 574.1C662.1 575.0 665.2 588.6 665.9 591.8C666.6 595.0 669.8 611.8 670.1 612.7C670.3 613.6 673.2 616.9 673.2 616.8C673.2 616.8 676.1 608.4 676.3 606.4C676.6 604.5 680.2 564.8 680.5 562.6C680.8 560.4 684.0 552.2 684.7 551.1C685.3 550.1 688.8 547.4 689.9 546.9C691.0 546.5 700.2 544.5 702.4 544.2C704.6 544.0 713.0 543.2 714.9 543.8C716.8 544.4 722.3 549.4 723.3 551.1C724.2 552.9 726.5 564.1 727.4 566.8C728.4 569.5 732.9 578.6 733.7 581.4C734.5 584.1 739.0 604.4 740.0 608.5C740.9 612.6 744.3 627.3 745.2 631.5C746.0 635.6 748.3 651.5 749.3 654.4C750.4 657.3 757.4 666.5 758.7 669.0C760.1 671.5 764.3 680.9 765.0 683.6C765.7 686.4 768.5 704.1 769.2 708.7C769.9 713.2 773.7 739.2 774.4 744.1C775.1 749.0 778.1 769.2 778.6 771.3C779.1 773.3 783.6 781.6 783.8 781.7C784.0 781.8 788.6 776.8 789.0 775.4C789.4 774.0 792.6 754.9 793.2 750.4C793.7 745.9 796.6 715.4 797.3 708.7C798.1 701.9 800.8 677.1 801.5 671.1C802.2 665.1 805.0 642.3 805.7 637.7C806.4 633.2 810.0 616.5 810.9 612.7C811.9 608.9 816.0 595.2 817.2 591.8C818.3 588.4 823.2 575.4 824.5 573.0C825.8 570.7 832.3 562.7 833.9 561.6C835.4 560.4 842.7 558.5 844.3 558.4C845.9 558.4 851.1 560.6 852.6 560.9C854.2 561.2 862.9 562.5 865.2 562.6C867.4 562.7 880.1 561.9 881.8 562.2C883.6 562.5 889.1 566.7 890.2 567.2C891.2 567.6 895.5 568.3 896.5 568.4C897.4 568.6 900.8 568.9 901.7 568.9C902.7 568.9 908.6 568.7 910.1 568.5C911.6 568.4 919.0 567.2 920.5 567.3C922.0 567.3 927.4 568.4 928.9 568.9C930.3 569.5 937.3 573.4 939.3 574.2C941.2 574.9 950.1 577.4 951.8 578.3C953.6 579.3 958.9 584.1 960.2 585.6C961.4 587.2 965.5 594.1 966.4 596.1C967.3 598.1 971.5 609.7 972.7 612.8C973.8 615.8 978.0 627.3 978.9 629.4C979.9 631.6 984.3 639.7 985.2 640.9C986.1 642.1 990.4 645.8 991.5 646.1C992.5 646.5 996.6 645.5 997.7 645.1C998.8 644.7 1004.5 641.4 1006.1 640.9C1007.7 640.4 1014.6 639.7 1016.5 639.5C1018.4 639.2 1025.1 638.5 1026.9 637.8C1028.7 637.1 1035.9 633.2 1037.4 631.5C1038.8 629.9 1042.6 621.3 1043.6 619.0C1044.7 616.7 1048.7 607.0 1049.9 604.4C1051.0 601.8 1056.2 589.4 1057.2 587.7C1058.2 586.0 1063.1 580.8 1064.5 579.4C1065.9 577.9 1071.5 572.0 1072.8 571.0C1074.2 570.0 1079.6 567.5 1081.2 566.8C1082.7 566.2 1090.3 564.4 1091.6 563.7C1092.9 563.1 1096.9 559.6 1097.9 558.5C1098.8 557.4 1102.9 550.2 1104.1 549.1C1105.4 548.0 1110.9 545.8 1112.5 545.6C1114.1 545.3 1121.3 545.7 1122.9 546.0C1124.5 546.3 1130.0 548.2 1131.3 549.1C1132.6 550.0 1136.6 555.0 1137.5 556.4C1138.4 557.9 1142.9 566.6 1143.8 568.9C1144.6 571.3 1148.3 584.3 1149.0 587.7C1149.7 591.2 1152.5 611.7 1153.2 616.9C1153.8 622.2 1156.0 646.1 1156.3 648.2C1156.6 650.3 1159.4 659.7 1159.4 659.7C1159.4 659.7 1162.3 652.1 1162.6 650.3C1162.8 648.6 1165.1 622.6 1165.7 616.9C1166.2 611.3 1168.3 588.7 1168.8 585.6C1169.3 582.6 1172.3 570.7 1173.0 568.9C1173.7 567.2 1178.3 561.3 1179.2 560.6C1180.2 559.8 1185.0 558.1 1185.5 558.5C1186.0 558.9 1189.3 568.2 1189.7 568.9C1190.1 569.6 1192.7 572.1 1192.8 572.1C1192.9 572.0 1195.1 564.3 1195.9 562.7C1196.8 561.1 1200.5 555.1 1202.2 554.3C1203.9 553.6 1212.5 554.3 1214.7 554.3C1217.0 554.4 1231.8 555.2 1235.6 555.4C1239.3 555.5 1255.9 556.0 1256.5 556.0C1257.0 556.0 1259.1 555.3 1259.6 555.4C1260.2 555.5 1269.9 558.0 1272.2 558.1C1274.5 558.2 1287.9 556.9 1290.9 556.8C1293.9 556.7 1305.0 556.6 1307.6 556.8C1310.3 557.1 1320.6 559.1 1322.2 559.5C1323.9 560.0 1329.1 563.0 1330.6 563.7C1332.1 564.4 1337.6 567.3 1338.9 567.3C1340.2 567.3 1344.0 564.1 1345.2 563.7C1346.4 563.4 1352.0 563.0 1353.5 563.1C1355.0 563.2 1362.5 564.7 1364.0 564.8C1365.5 564.8 1370.8 563.6 1372.3 563.7C1373.8 563.9 1382.8 565.7 1384.8 566.8C1386.9 568.0 1393.2 575.4 1395.3 576.2C1397.4 577.1 1406.2 575.8 1407.8 576.2C1409.4 576.7 1413.5 581.3 1415.1 581.9C1416.6 582.5 1425.1 582.6 1426.6 583.5C1428.1 584.5 1431.1 590.3 1431.8 591.9C1432.5 593.5 1436.4 607.2 1437.0 608.6C1437.6 609.9 1441.9 614.9 1442.2 614.8C1442.6 614.8 1446.5 608.0 1447.4 606.5C1448.4 605.0 1452.8 597.0 1453.7 596.1C1454.6 595.1 1459.0 592.6 1460.0 592.9C1460.9 593.2 1466.5 598.6 1467.3 600.2C1468.1 601.9 1470.9 613.9 1471.4 616.9C1472.0 620.0 1475.4 646.6 1475.6 648.2C1475.9 649.8 1477.5 656.4 1477.7 657.0C1477.9 657.6 1479.8 659.9 1480.0 659.9C1480.2 659.9 1482.0 657.2 1482.3 656.6C1482.6 655.9 1483.8 651.5 1484.0 650.3C1484.1 649.2 1487.8 622.7 1488.1 621.1C1488.5 619.5 1491.6 613.5 1492.3 612.8C1493.0 612.0 1496.7 611.3 1497.5 610.7C1498.3 610.1 1502.3 605.0 1503.8 604.4C1505.3 603.8 1512.7 604.0 1514.2 604.4C1515.8 604.9 1520.5 608.6 1521.5 609.6C1522.5 610.6 1526.0 615.9 1526.3 615.9C1526.6 615.9 1529.3 611.2 1529.9 610.7C1530.5 610.2 1533.6 609.2 1534.0 609.6C1534.5 610.0 1540.1 619.3 1541.3 621.1C1542.6 622.9 1547.5 628.7 1548.6 630.5C1549.8 632.3 1555.0 642.1 1555.9 644.1C1556.8 646.0 1559.4 653.2 1560.0 655.2C1560.6 657.3 1565.0 673.6 1565.0 673.6C1565.0 673.6 1569.0 668.1 1570.0 666.9C1571.0 665.8 1577.3 660.4 1578.4 658.6C1579.4 656.7 1583.8 643.0 1585.0 640.2C1586.3 637.4 1592.0 628.0 1593.4 625.2C1594.8 622.4 1600.4 609.2 1601.7 606.8C1603.0 604.5 1609.4 595.0 1610.1 594.3C1610.7 593.6 1614.1 592.6 1615.1 592.6C1616.0 592.6 1625.0 594.2 1626.8 594.3C1628.6 594.5 1635.0 593.9 1636.8 594.3C1638.6 594.7 1645.2 597.6 1646.8 598.5C1648.4 599.4 1653.7 603.5 1655.1 604.3C1656.6 605.2 1662.3 607.3 1663.5 608.5C1664.7 609.7 1670.7 617.9 1671.8 620.2C1672.9 622.5 1677.7 638.0 1678.5 640.2C1679.4 642.4 1683.9 651.2 1684.4 651.9C1684.8 652.6 1687.3 655.3 1687.7 655.2C1688.1 655.2 1691.3 651.3 1691.9 650.2C1692.4 649.2 1695.6 638.2 1696.9 636.9C1698.1 635.6 1705.3 635.0 1706.9 634.4C1708.5 633.7 1714.0 630.6 1715.2 629.4C1716.5 628.2 1720.9 621.2 1721.9 620.2C1722.9 619.2 1727.7 616.3 1728.6 616.0C1729.5 615.8 1733.0 616.2 1733.6 616.8C1734.2 617.5 1739.4 628.3 1740.3 629.4C1741.2 630.5 1745.9 632.6 1747.0 633.5C1748.0 634.5 1752.3 640.4 1753.6 641.1C1755.0 641.7 1760.7 641.8 1762.0 641.1C1763.3 640.3 1767.3 633.4 1768.7 631.9C1770.0 630.4 1775.8 626.0 1777.0 624.4C1778.2 622.7 1781.9 613.0 1782.8 611.8C1783.8 610.7 1789.5 608.7 1790.4 608.5C1791.3 608.3 1794.5 609.6 1795.4 609.3C1796.3 609.1 1802.4 606.1 1803.7 605.2C1805.0 604.3 1809.3 599.9 1810.4 599.3C1811.5 598.7 1815.9 597.8 1817.1 597.7C1818.3 597.5 1823.0 597.5 1823.7 597.7C1824.5 597.8 1826.5 600.1 1827.1 600.2C1827.7 600.2 1829.9 598.3 1830.4 598.5C1830.9 598.7 1836.4 604.5 1837.1 604.3C1837.8 604.2 1843.6 595.1 1843.8 595.1C1843.9 595.2 1848.8 606.8 1848.8 606.8"/>
<path stroke-width="4.80" d="M148.3 533.8C148.3 533.8 150.3 533.4 150.7 533.4C151.1 533.4 152.6 533.8 153.1 533.8C153.5 533.9 155.0 533.5 155.4 533.5C155.9 533.5 157.4 533.9 157.8 533.9C158.2 533.9 159.7 534.0 160.1 533.9C160.6 533.8 162.1 533.1 162.5 533.0C162.9 532.9 164.4 532.8 164.9 532.9C165.3 533.0 166.8 534.2 167.2 534.2C167.7 534.2 169.2 533.3 169.6 533.3C170.0 533.2 171.5 533.1 171.9 533.2C172.3 533.3 173.8 534.4 174.3 534.4C174.7 534.4 176.2 533.6 176.7 533.5C177.1 533.5 178.6 534.1 179.0 534.1C179.4 534.1 180.9 533.5 181.4 533.5C181.8 533.5 183.3 533.8 183.7 533.8C184.2 533.7 185.6 533.0 186.1 533.0C186.5 532.9 188.0 533.6 188.4 533.7C188.9 533.8 190.4 534.1 190.8 534.1C191.2 534.0 192.7 533.5 193.2 533.5C193.6 533.5 195.1 533.8 195.5 533.8C195.9 533.8 197.5 533.8 197.9 533.7C198.3 533.6 199.8 532.7 200.2 532.7C200.7 532.7 202.2 533.3 202.6 533.4C203.0 533.5 204.5 533.8 204.9 533.8C205.3 533.8 206.8 533.5 207.2 533.5C207.6 533.4 209.1 533.0 209.6 533.0C210.0 532.9 211.5 532.4 211.9 532.5C212.3 532.6 213.8 533.7 214.2 533.8C214.6 533.8 216.1 533.1 216.5 533.1C216.9 533.1 218.4 533.4 218.8 533.5C219.2 533.5 220.7 533.7 221.1 533.7C221.6 533.7 223.0 533.4 223.5 533.4C223.9 533.4 225.4 533.7 225.8 533.7C226.2 533.6 227.7 532.8 228.1 532.8C228.5 532.8 230.0 533.4 230.4 533.4C230.9 533.4 232.3 532.8 232.7 532.8C233.2 532.8 234.6 533.5 235.1 533.5C235.5 533.6 237.0 533.5 237.4 533.4C237.8 533.3 239.3 532.2 239.7 532.1C240.1 532.0 241.6 532.1 242.0 532.1C242.4 532.2 243.9 532.1 244.3 532.2C244.7 532.3 246.2 533.4 246.6 533.4C247.1 533.4 248.6 532.6 249.0 532.5C249.4 532.5 250.9 532.8 251.3 532.8C251.7 532.8 253.2 532.2 253.6 532.2C254.0 532.2 255.5 532.5 255.9 532.5C256.3 532.5 257.8 532.3 258.2 532.3C258.7 532.2 260.1 532.2 260.6 532.2C261.0 532.2 262.5 532.5 262.9 532.5C263.3 532.5 264.8 532.3 265.2 532.3C265.6 532.3 267.1 532.4 267.5 532.5C267.9 532.6 269.4 533.0 269.8 533.0C270.3 533.0 271.7 532.7 272.2 532.7C272.6 532.7 274.1 533.1 274.5 533.1C274.9 533.1 276.4 533.0 276.8 533.0C277.2 533.0 278.7 533.2 279.1 533.2C279.5 533.2 281.0 532.8 281.4 532.7C281.8 532.6 283.3 531.9 283.7 531.9C284.2 532.0 285.7 532.9 286.1 533.1C286.5 533.2 288.0 533.2 288.4 533.2C288.8 533.2 290.3 533.2 290.7 533.2C291.1 533.1 292.6 532.7 293.0 532.6C293.4 532.6 294.9 532.9 295.3 532.9C295.8 532.8 297.2 532.1 297.7 532.1C298.1 532.1 299.6 533.0 300.0 533.1C300.4 533.2 301.9 532.8 302.3 532.7C302.7 532.6 304.2 532.3 304.6 532.3C305.0 532.2 306.5 531.8 306.9 531.9C307.3 532.0 308.8 533.1 309.2 533.2C309.6 533.3 311.2 533.5 311.6 533.4C312.0 533.3 313.4 532.0 313.9 532.0C314.3 532.0 315.8 533.1 316.2 533.2C316.6 533.2 318.1 532.6 318.5 532.6C318.9 532.5 320.4 532.2 320.8 532.2C321.3 532.1 322.7 532.3 323.2 532.4C323.6 532.5 325.1 533.1 325.5 533.2C325.9 533.2 327.4 532.7 327.8 532.8C328.2 532.8 329.7 533.5 330.1 533.4C330.5 533.3 332.0 532.1 332.4 532.1C332.9 532.1 334.3 533.0 334.7 533.0C335.2 533.1 336.6 532.1 337.1 532.2C337.5 532.2 339.0 533.2 339.4 533.3C339.8 533.3 341.3 532.7 341.7 532.7C342.1 532.7 343.6 533.5 344.0 533.6C344.4 533.7 345.9 533.9 346.3 533.8C346.8 533.8 348.2 533.1 348.7 533.1C349.1 533.1 350.5 533.9 351.0 533.9C351.4 533.9 352.9 533.0 353.3 532.8C353.7 532.7 355.2 532.5 355.6 532.5C356.0 532.5 357.5 533.4 357.9 533.4C358.4 533.4 359.8 532.5 360.3 532.5C360.7 532.4 362.2 532.7 362.6 532.8C363.0 532.9 364.5 533.1 364.9 533.2C365.3 533.2 366.8 533.5 367.2 533.5C367.6 533.5 369.1 533.5 369.5 533.4C369.9 533.3 371.5 532.6 371.9 532.5C372.3 532.4 373.8 532.0 374.2 532.0C374.6 532.1 376.1 533.1 376.6 533.0C377.0 533.0 378.5 531.9 378.9 531.8C379.4 531.8 380.8 532.5 381.3 532.6C381.7 532.6 383.2 532.3 383.6 532.1C384.0 532.0 385.5 531.1 386.0 531.0C386.4 530.9 387.9 530.8 388.3 530.9C388.7 531.0 390.9 531.8 391.4 532.1C392.0 532.3 394.2 533.3 394.6 533.4C395.0 533.5 396.5 533.4 396.9 533.4C397.4 533.4 398.9 533.6 399.3 533.6C399.7 533.6 401.2 533.6 401.7 533.5C402.1 533.5 403.6 533.5 404.0 533.5C404.4 533.5 406.0 533.5 406.4 533.6C406.8 533.6 408.3 534.1 408.8 534.1C409.2 534.1 410.7 533.5 411.1 533.4C411.5 533.3 413.1 533.2 413.5 533.3C413.9 533.3 415.4 533.8 415.8 533.7C416.3 533.7 417.8 533.0 418.2 533.0C418.6 532.9 420.2 533.0 420.6 533.1C421.0 533.2 422.5 534.1 422.9 534.1C423.4 534.2 424.9 533.5 425.3 533.4C425.7 533.4 427.2 533.5 427.7 533.5C428.1 533.5 429.8 533.1 430.0 533.4C430.3 533.7 433.9 540.3 434.2 540.7C434.5 541.0 436.3 541.0 436.7 541.2C437.1 541.4 438.8 542.8 439.2 543.1C439.7 543.4 441.3 544.4 441.7 544.6C442.1 544.7 443.8 544.7 444.2 544.9C444.6 545.1 446.5 546.4 446.7 546.9C447.0 547.5 450.7 557.9 450.9 558.4C451.1 558.9 452.9 560.0 453.3 560.3C453.8 560.7 455.4 561.9 455.8 562.1C456.2 562.3 457.8 562.7 458.2 562.9C458.6 563.2 460.2 565.3 460.6 565.6C461.0 565.9 462.6 566.8 463.1 567.1C463.5 567.4 465.1 568.4 465.5 568.9C465.9 569.3 467.8 572.3 468.3 573.0C468.8 573.6 470.6 575.7 471.1 576.3C471.5 576.9 473.5 580.2 473.9 580.3C474.2 580.5 476.1 579.2 476.6 578.9C477.1 578.7 478.9 577.6 479.4 577.2C479.9 576.9 481.8 575.0 482.2 575.1C482.6 575.2 486.0 578.8 486.4 578.9C486.7 578.9 488.5 576.7 488.9 576.3C489.3 576.0 491.0 574.8 491.4 574.6C491.8 574.4 493.5 574.0 493.9 573.8C494.3 573.6 496.0 572.7 496.4 572.4C496.8 572.1 498.5 570.1 498.9 569.9C499.3 569.7 500.8 569.6 501.3 569.7C501.7 569.7 503.2 570.1 503.7 570.1C504.1 570.2 505.6 570.5 506.0 570.5C506.5 570.5 508.0 570.2 508.4 570.2C508.9 570.2 510.4 570.4 510.8 570.4C511.2 570.5 512.8 570.4 513.2 570.5C513.6 570.5 515.4 570.6 515.6 570.9C515.8 571.3 519.5 580.0 519.8 580.3C520.0 580.7 521.9 580.6 522.4 580.6C522.9 580.7 524.6 581.2 525.0 581.4C525.5 581.6 527.6 583.1 528.2 583.4C528.7 583.7 530.8 584.9 531.3 585.1C531.8 585.4 533.9 585.8 534.4 586.1C535.0 586.3 537.0 587.6 537.6 587.6C538.2 587.7 540.1 586.6 540.7 586.4C541.2 586.2 543.4 585.6 543.8 585.6C544.2 585.5 545.7 586.1 546.2 586.0C546.6 585.9 548.1 584.8 548.5 584.8C549.0 584.8 550.4 585.6 550.9 585.7C551.3 585.7 552.8 585.4 553.2 585.6C553.6 585.7 555.2 587.1 555.6 587.3C556.0 587.5 557.7 587.8 558.1 588.0C558.5 588.2 560.0 589.5 560.5 589.7C561.0 590.0 567.6 592.8 568.9 593.9C570.1 595.0 574.2 600.6 575.1 602.2C576.0 603.9 580.3 614.6 581.4 616.8C582.4 619.1 586.6 627.1 587.6 629.4C588.7 631.7 592.8 641.3 593.9 644.0C595.0 646.6 601.1 662.7 601.2 662.8C601.3 662.9 605.8 657.8 606.4 656.5C607.0 655.2 613.1 637.0 613.7 635.6C614.3 634.3 618.3 630.7 618.9 629.4C619.6 628.1 624.3 615.5 625.2 613.7C626.1 611.9 630.5 605.7 631.5 604.3C632.4 603.0 635.9 597.8 636.7 597.0C637.4 596.3 641.2 594.8 641.9 593.9C642.6 593.0 649.3 580.7 650.2 579.3C651.2 577.8 655.8 572.3 656.5 572.0C657.2 571.7 661.3 573.2 661.7 574.1C662.1 575.0 665.2 588.6 665.9 591.8C666.6 595.0 669.8 611.8 670.1 612.7C670.3 613.6 673.2 616.9 673.2 616.8C673.2 616.8 676.1 608.4 676.3 606.4C676.6 604.5 680.2 564.8 680.5 562.6C680.8 560.4 684.0 552.2 684.7 551.1C685.3 550.1 688.8 547.4 689.9 546.9C691.0 546.5 700.2 544.5 702.4 544.2C704.6 544.0 713.0 543.2 714.9 543.8C716.8 544.4 722.3 549.4 723.3 551.1C724.2 552.9 726.5 564.1 727.4 566.8C728.4 569.5 732.9 578.6 733.7 581.4C734.5 584.1 739.0 604.4 740.0 608.5C740.9 612.6 744.3 627.3 745.2 631.5C746.0 635.6 748.3 651.5 749.3 654.4C750.4 657.3 757.4 666.5 758.7 669.0C760.1 671.5 764.3 680.9 765.0 683.6C765.7 686.4 768.5 704.1 769.2 708.7C769.9 713.2 773.7 739.2 774.4 744.1C775.1 749.0 778.1 769.2 778.6 771.3C779.1 773.3 783.6 781.6 783.8 781.7C784.0 781.8 788.6 776.8 789.0 775.4C789.4 774.0 792.6 754.9 793.2 750.4C793.7 745.9 796.6 715.4 797.3 708.7C798.1 701.9 800.8 677.1 801.5 671.1C802.2 665.1 805.0 642.3 805.7 637.7C806.4 633.2 810.0 616.5 810.9 612.7C811.9 608.9 816.0 595.2 817.2 591.8C818.3 588.4 823.2 575.4 824.5 573.0C825.8 570.7 832.3 562.7 833.9 561.6C835.4 560.4 842.7 558.5 844.3 558.4C845.9 558.4 851.1 560.6 852.6 560.9C854.2 561.2 862.9 562.5 865.2 562.6C867.4 562.7 880.1 561.9 881.8 562.2C883.6 562.5 889.1 566.7 890.2 567.2C891.2 567.6 895.5 568.3 896.5 568.4C897.4 568.6 900.8 568.9 901.7 568.9C902.7 568.9 908.6 568.7 910.1 568.5C911.6 568.4 919.0 567.2 920.5 567.3C922.0 567.3 927.4 568.4 928.9 568.9C930.3 569.5 937.3 573.4 939.3 574.2C941.2 574.9 950.1 577.4 951.8 578.3C953.6 579.3 958.9 584.1 960.2 585.6C961.4 587.2 965.5 594.1 966.4 596.1C967.3 598.1 971.5 609.7 972.7 612.8C973.8 615.8 978.0 627.3 978.9 629.4C979.9 631.6 984.3 639.7 985.2 640.9C986.1 642.1 990.4 645.8 991.5 646.1C992.5 646.5 996.6 645.5 997.7 645.1C998.8 644.7 1004.5 641.4 1006.1 640.9C1007.7 640.4 1014.6 639.7 1016.5 639.5C1018.4 639.2 1025.1 638.5 1026.9 637.8C1028.7 637.1 1035.9 633.2 1037.4 631.5C1038.8 629.9 1042.6 621.3 1043.6 619.0C1044.7 616.7 1048.7 607.0 1049.9 604.4C1051.0 601.8 1056.2 589.4 1057.2 587.7C1058.2 586.0 1063.1 580.8 1064.5 579.4C1065.9 577.9 1071.5 572.0 1072.8 571.0C1074.2 570.0 1079.6 567.5 1081.2 566.8C1082.7 566.2 1090.3 564.4 1091.6 563.7C1092.9 563.1 1096.9 559.6 1097.9 558.5C1098.8 557.4 1102.9 550.2 1104.1 549.1C1105.4 548.0 1110.9 545.8 1112.5 545.6C1114.1 545.3 1121.3 545.7 1122.9 546.0C1124.5 546.3 1130.0 548.2 1131.3 549.1C1132.6 550.0 1136.6 555.0 1137.5 556.4C1138.4 557.9 1142.9 566.6 1143.8 568.9C1144.6 571.3 1148.3 584.3 1149.0 587.7C1149.7 591.2 1152.5 611.7 1153.2 616.9C1153.8 622.2 1156.0 646.1 1156.3 648.2C1156.6 650.3 1159.4 659.7 1159.4 659.7C1159.4 659.7 1162.3 652.1 1162.6 650.3C1162.8 648.6 1165.1 622.6 1165.7 616.9C1166.2 611.3 1168.3 588.7 1168.8 585.6C1169.3 582.6 1172.3 570.7 1173.0 568.9C1173.7 567.2 1178.3 561.3 1179.2 560.6C1180.2 559.8 1185.0 558.1 1185.5 558.5C1186.0 558.9 1189.3 568.2 1189.7 568.9C1190.1 569.6 1192.7 572.1 1192.8 572.1C1192.9 572.0 1195.1 564.3 1195.9 562.7C1196.8 561.1 1200.5 555.1 1202.2 554.3C1203.9 553.6 1212.5 554.3 1214.7 554.3C1217.0 554.4 1231.8 555.2 1235.6 555.4C1239.3 555.5 1255.9 556.0 1256.5 556.0C1257.0 556.0 1259.1 555.3 1259.6 555.4C1260.2 555.5 1269.9 558.0 1272.2 558.1C1274.5 558.2 1287.9 556.9 1290.9 556.8C1293.9 556.7 1305.0 556.6 1307.6 556.8C1310.3 557.1 1320.6 559.1 1322.2 559.5C1323.9 560.0 1329.1 563.0 1330.6 563.7C1332.1 564.4 1337.6 567.3 1338.9 567.3C1340.2 567.3 1344.0 564.1 1345.2 563.7C1346.4 563.4 1352.0 563.0 1353.5 563.1C1355.0 563.2 1362.5 564.7 1364.0 564.8C1365.5 564.8 1370.8 563.6 1372.3 563.7C1373.8 563.9 1382.8 565.7 1384.8 566.8C1386.9 568.0 1393.2 575.4 1395.3 576.2C1397.4 577.1 1406.2 575.8 1407.8 576.2C1409.4 576.7 1413.5 581.3 1415.1 581.9C1416.6 582.5 1425.1 582.6 1426.6 583.5C1428.1 584.5 1431.1 590.3 1431.8 591.9C1432.5 593.5 1436.4 607.2 1437.0 608.6C1437.6 609.9 1441.9 614.9 1442.2 614.8C1442.6 614.8 1446.5 608.0 1447.4 606.5C1448.4 605.0 1452.8 597.0 1453.7 596.1C1454.6 595.1 1459.0 592.6 1460.0 592.9C1460.9 593.2 1466.5 598.6 1467.3 600.2C1468.1 601.9 1470.9 613.9 1471.4 616.9C1472.0 620.0 1475.4 646.6 1475.6 648.2C1475.9 649.8 1477.5 656.4 1477.7 657.0C1477.9 657.6 1479.8 659.9 1480.0 659.9C1480.2 659.9 1482.0 657.2 1482.3 656.6C1482.6 655.9 1483.8 651.5 1484.0 650.3C1484.1 649.2 1487.8 622.7 1488.1 621.1C1488.5 619.5 1491.6 613.5 1492.3 612.8C1493.0 612.0 1496.7 611.3 1497.5 610.7C1498.3 610.1 1502.3 605.0 1503.8 604.4C1505.3 603.8 1512.7 604.0 1514.2 604.4C1515.8 604.9 1520.5 608.6 1521.5 609.6C1522.5 610.6 1526.0 615.9 1526.3 615.9C1526.6 615.9 1529.3 611.2 1529.9 610.7C1530.5 610.2 1533.6 609.2 1534.0 609.6C1534.5 610.0 1540.1 619.3 1541.3 621.1C1542.6 622.9 1547.5 628.7 1548.6 630.5C1549.8 632.3 1555.0 642.1 1555.9 644.1C1556.8 646.0 1559.4 653.2 1560.0 655.2C1560.6 657.3 1565.0 673.6 1565.0 673.6C1565.0 673.6 1569.0 668.1 1570.0 666.9C1571.0 665.8 1577.3 660.4 1578.4 658.6C1579.4 656.7 1583.8 643.0 1585.0 640.2C1586.3 637.4 1592.0 628.0 1593.4 625.2C1594.8 622.4 1600.4 609.2 1601.7 606.8C1603.0 604.5 1609.4 595.0 1610.1 594.3C1610.7 593.6 1614.1 592.6 1615.1 592.6C1616.0 592.6 1625.0 594.2 1626.8 594.3C1628.6 594.5 1635.0 593.9 1636.8 594.3C1638.6 594.7 1645.2 597.6 1646.8 598.5C1648.4 599.4 1653.7 603.5 1655.1 604.3C1656.6 605.2 1662.3 607.3 1663.5 608.5C1664.7 609.7 1670.7 617.9 1671.8 620.2C1672.9 622.5 1677.7 638.0 1678.5 640.2C1679.4 642.4 1683.9 651.2 1684.4 651.9C1684.8 652.6 1687.3 655.3 1687.7 655.2C1688.1 655.2 1691.3 651.3 1691.9 650.2C1692.4 649.2 1695.6 638.2 1696.9 636.9C1698.1 635.6 1705.3 635.0 1706.9 634.4C1708.5 633.7 1714.0 630.6 1715.2 629.4C1716.5 628.2 1720.9 621.2 1721.9 620.2C1722.9 619.2 1727.7 616.3 1728.6 616.0C1729.5 615.8 1733.0 616.2 1733.6 616.8C1734.2 617.5 1739.4 628.3 1740.3 629.4C1741.2 630.5 1745.9 632.6 1747.0 633.5C1748.0 634.5 1752.3 640.4 1753.6 641.1C1755.0 641.7 1760.7 641.8 1762.0 641.1C1763.3 640.3 1767.3 633.4 1768.7 631.9C1770.0 630.4 1775.8 626.0 1777.0 624.4C1778.2 622.7 1781.9 613.0 1782.8 611.8C1783.8 610.7 1789.5 608.7 1790.4 608.5C1791.3 608.3 1794.5 609.6 1795.4 609.3C1796.3 609.1 1802.4 606.1 1803.7 605.2C1805.0 604.3 1809.3 599.9 1810.4 599.3C1811.5 598.7 1815.9 597.8 1817.1 597.7C1818.3 597.5 1823.0 597.5 1823.7 597.7C1824.5 597.8 1826.5 600.1 1827.1 600.2C1827.7 600.2 1829.9 598.3 1830.4 598.5C1830.9 598.7 1836.4 604.5 1837.1 604.3C1837.8 604.2 1843.6 595.1 1843.8 595.1C1843.9 595.2 1848.8 606.8 1848.8 606.8"/>
</g>
<g id="blue" class="c" stroke="#0000ff">
<path stroke-width="6.80" stroke-opacity="0.30" d="M148.3 293.9C148.3 293.9 150.3 293.2 150.7 293.1C151.1 293.0 152.6 292.7 153.1 292.7C153.5 292.7 155.0 293.3 155.4 293.2C155.9 293.2 157.4 292.6 157.8 292.5C158.2 292.4 159.7 292.1 160.1 292.2C160.6 292.2 162.1 292.7 162.5 292.8C162.9 293.0 164.4 293.9 164.9 293.9C165.3 294.0 166.8 293.6 167.2 293.5C167.6 293.5 169.2 293.4 169.6 293.3C170.0 293.2 171.5 291.9 171.9 291.9C172.4 291.8 173.9 292.5 174.3 292.5C174.7 292.5 176.2 291.8 176.7 291.7C177.1 291.6 178.6 291.4 179.0 291.3C179.4 291.3 180.9 291.1 181.4 291.0C181.8 291.0 183.3 291.0 183.7 291.2C184.1 291.3 185.7 292.6 186.1 292.7C186.5 292.9 188.0 292.4 188.4 292.4C188.9 292.3 190.4 292.2 190.8 292.2C191.2 292.2 192.8 292.2 193.2 292.0C193.6 291.9 195.1 290.6 195.5 290.4C195.9 290.3 197.5 290.5 197.9 290.6C198.3 290.7 199.8 291.2 200.2 291.2C200.7 291.2 202.2 290.8 202.6 290.8C203.0 290.8 204.5 291.1 204.9 291.1C205.3 291.2 206.8 291.3 207.2 291.3C207.7 291.3 209.2 291.3 209.6 291.1C209.9 291.0 211.5 289.1 211.9 289.1C212.2 289.0 213.8 290.0 214.2 290.1C214.6 290.2 216.1 290.2 216.5 290.1C216.9 290.1 218.4 289.7 218.8 289.5C219.2 289.4 220.7 288.6 221.1 288.6C221.6 288.5 223.0 289.2 223.5 289.1C223.9 289.1 225.4 287.9 225.8 288.0C226.2 288.1 227.7 289.7 228.1 289.9C228.5 290.0 230.0 289.6 230.4 289.5C230.8 289.4 232.3 288.7 232.7 288.6C233.2 288.4 234.6 287.8 235.1 287.8C235.5 287.8 236.9 289.1 237.4 289.1C237.8 289.1 239.3 288.1 239.7 288.1C240.1 288.1 241.6 288.6 242.0 288.7C242.4 288.7 243.9 288.5 244.3 288.4C244.7 288.3 246.2 287.5 246.6 287.4C247.1 287.3 248.5 287.0 249.0 287.0C249.4 287.0 250.9 287.3 251.3 287.3C251.7 287.2 253.2 286.8 253.6 286.7C254.0 286.6 255.5 285.9 255.9 285.9C256.3 285.8 257.8 285.9 258.2 286.0C258.6 286.1 260.2 287.2 260.6 287.1C260.9 287.0 262.5 285.1 262.9 285.0C263.3 285.0 264.7 286.0 265.2 286.0C265.6 285.9 267.1 284.8 267.6 284.8C268.0 284.8 269.5 286.0 269.9 286.0C270.4 286.1 271.9 285.1 272.3 285.1C272.7 285.1 274.3 285.6 274.7 285.6C275.1 285.6 276.6 285.4 277.1 285.3C277.5 285.3 279.0 284.8 279.4 284.9C279.8 285.0 281.4 286.4 281.8 286.4C282.2 286.3 283.8 284.5 284.2 284.3C284.6 284.2 286.1 284.8 286.5 284.7C287.0 284.7 288.5 284.1 288.9 284.1C289.3 284.1 290.8 285.0 291.3 285.0C291.7 285.0 293.2 284.1 293.6 284.1C294.1 284.0 295.6 284.1 296.0 284.1C296.4 284.2 297.9 285.0 298.4 285.0C298.8 284.9 300.3 283.9 300.8 283.8C301.2 283.8 302.7 284.2 303.1 284.3C303.6 284.4 305.1 285.1 305.5 285.0C305.9 284.9 307.5 283.1 307.9 283.0C308.3 282.8 309.8 282.7 310.2 282.8C310.7 282.8 312.2 282.9 312.6 283.0C313.0 283.2 314.5 284.2 315.0 284.2C315.4 284.3 316.9 283.6 317.4 283.5C317.8 283.4 319.5 283.1 320.0 283.0C320.4 282.8 322.1 281.5 322.6 281.3C323.0 281.1 324.7 280.8 325.2 280.7C325.7 280.6 327.4 280.4 327.8 280.3C328.2 280.2 329.7 279.6 330.1 279.6C330.5 279.6 332.0 280.3 332.4 280.2C332.9 280.2 334.3 279.2 334.7 279.2C335.2 279.3 336.7 280.6 337.1 280.8C337.5 281.0 339.0 281.2 339.4 281.3C339.8 281.3 341.3 281.5 341.7 281.4C342.1 281.4 343.6 280.9 344.0 280.9C344.5 280.9 345.9 281.5 346.3 281.4C346.8 281.4 348.3 280.6 348.7 280.3C349.1 280.1 350.8 278.7 351.2 278.6C351.6 278.4 353.3 278.5 353.7 278.6C354.2 278.7 355.8 279.7 356.3 279.7C356.8 279.7 358.4 278.8 358.8 278.6C359.2 278.4 360.9 277.2 361.3 277.1C361.8 277.1 363.4 277.9 363.9 277.8C364.3 277.7 366.0 276.1 366.4 276.2C366.8 276.2 368.6 278.2 369.0 278.5C369.4 278.9 371.2 280.2 371.6 280.3C372.0 280.5 373.6 280.4 374.0 280.2C374.4 280.0 376.0 278.3 376.4 278.0C376.8 277.8 378.4 277.0 378.8 276.9C379.2 276.8 380.7 276.8 381.2 276.6C381.6 276.5 383.1 275.2 383.5 275.0C383.9 274.8 385.5 274.8 385.9 274.7C386.3 274.6 387.9 273.9 388.3 274.1C388.7 274.2 390.9 276.9 391.4 277.3C391.9 277.6 394.1 278.2 394.6 278.2C395.0 278.2 396.5 277.5 396.9 277.2C397.4 277.0 398.9 276.0 399.3 275.9C399.7 275.7 401.3 275.4 401.7 275.4C402.1 275.3 403.7 275.0 404.1 275.1C404.5 275.1 406.0 276.0 406.5 275.9C406.9 275.9 408.5 274.5 408.9 274.3C409.3 274.2 410.8 274.2 411.3 274.1C411.7 273.9 413.3 273.0 413.8 272.8C414.2 272.6 415.8 271.6 416.3 271.6C416.8 271.6 418.4 273.1 418.9 273.0C419.3 272.9 421.0 271.2 421.4 270.9C421.8 270.6 423.5 269.9 423.9 269.6C424.4 269.4 426.0 268.6 426.5 268.5C426.9 268.5 428.6 268.6 429.0 268.9C429.4 269.1 431.2 270.9 431.6 271.4C432.0 272.0 434.0 276.0 434.2 276.2C434.4 276.3 436.3 274.8 436.7 274.7C437.2 274.7 438.8 275.4 439.2 275.3C439.7 275.2 441.3 273.7 441.7 273.4C442.1 273.2 443.8 272.6 444.2 272.6C444.7 272.5 446.4 272.7 446.7 273.0C447.0 273.4 449.3 277.7 449.9 278.7C450.4 279.8 452.8 284.4 453.0 284.5C453.2 284.6 455.0 282.8 455.5 282.7C455.9 282.5 457.7 283.4 458.0 283.2C458.3 283.0 460.1 280.1 460.5 279.8C460.9 279.6 462.6 279.7 463.0 279.6C463.4 279.4 465.2 278.1 465.5 278.2C465.8 278.4 467.9 281.9 468.3 282.4C468.7 282.9 470.6 284.5 471.1 285.0C471.5 285.5 473.5 288.6 473.9 288.7C474.2 288.8 476.2 287.5 476.6 287.1C477.0 286.7 479.0 283.6 479.4 283.1C479.9 282.5 482.0 280.2 482.2 280.3C482.4 280.4 486.2 286.5 486.4 286.6C486.6 286.7 488.5 284.8 488.9 284.5C489.3 284.3 491.0 283.7 491.4 283.5C491.8 283.2 493.5 281.3 493.9 281.1C494.3 280.9 496.0 280.7 496.4 280.6C496.8 280.4 498.5 279.4 498.9 279.3C499.3 279.1 501.0 278.8 501.4 278.9C501.8 279.0 503.5 280.5 503.9 280.6C504.3 280.8 506.0 280.8 506.4 280.7C506.9 280.7 508.5 280.2 508.9 280.1C509.4 280.1 511.0 280.6 511.4 280.3C511.8 280.1 515.5 276.1 515.6 276.2C515.6 276.2 519.8 292.9 519.8 292.9C519.8 292.9 522.0 289.3 522.4 288.8C522.8 288.3 524.8 286.3 525.0 286.4C525.2 286.5 528.0 291.5 528.2 291.6C528.4 291.7 530.3 289.5 530.8 289.1C531.2 288.8 533.2 287.3 533.4 287.5C533.5 287.6 537.4 296.7 537.6 296.8C537.7 297.0 540.2 295.1 540.7 294.8C541.2 294.6 543.4 293.9 543.8 293.7C544.2 293.6 545.8 293.0 546.2 292.9C546.6 292.8 548.1 292.7 548.5 292.7C548.9 292.8 550.4 293.6 550.9 293.6C551.3 293.6 552.8 292.6 553.2 292.7C553.6 292.8 555.4 294.7 555.8 295.2C556.2 295.7 558.0 298.7 558.4 298.9C558.8 299.2 560.7 298.6 561.2 298.8C561.7 299.0 563.5 300.9 564.0 301.1C564.5 301.3 566.3 300.8 566.8 301.0C567.2 301.3 568.9 303.4 569.4 304.0C569.8 304.6 571.6 307.2 572.0 307.6C572.4 308.1 574.2 309.1 574.6 309.5C575.0 309.8 576.8 311.9 577.2 312.5C577.6 313.1 579.8 318.0 580.3 319.0C580.8 319.9 583.0 323.4 583.5 324.0C583.9 324.6 585.7 326.5 586.2 327.0C586.7 327.6 588.6 329.6 589.0 330.1C589.5 330.5 591.3 331.9 591.8 332.3C592.3 332.7 594.4 334.1 594.9 334.3C595.5 334.6 597.6 335.1 598.1 335.5C598.5 335.8 601.4 339.6 601.6 339.6C601.9 339.6 604.0 335.8 604.5 334.9C605.1 334.1 607.2 331.2 607.5 330.2C607.8 329.3 610.1 318.3 610.6 315.9C611.1 313.6 613.6 303.4 613.7 303.1C613.9 302.8 615.9 303.0 616.3 303.1C616.8 303.2 618.6 304.3 618.9 304.2C619.3 304.0 621.6 300.9 622.1 300.1C622.6 299.4 624.8 295.3 625.2 294.8C625.6 294.2 627.4 292.8 627.8 292.4C628.2 291.9 630.0 289.2 630.4 288.5C630.9 287.8 632.6 284.9 633.0 284.1C633.4 283.2 635.6 278.1 635.6 278.1C635.6 278.1 640.1 286.3 640.2 286.4C640.4 286.5 642.4 284.4 642.9 284.0C643.3 283.7 645.1 282.8 645.5 282.5C645.9 282.2 647.7 280.6 648.1 280.2C648.6 279.7 650.5 277.8 650.9 277.2C651.4 276.7 653.2 274.1 653.7 273.5C654.2 272.8 656.3 269.7 656.5 269.7C656.7 269.7 658.7 272.5 659.1 272.9C659.5 273.3 661.4 274.4 661.7 274.9C662.0 275.4 663.8 279.6 664.2 280.6C664.7 281.6 666.3 285.5 666.7 286.5C667.2 287.5 668.8 291.3 669.2 292.2C669.6 293.1 671.3 296.2 671.7 297.1C672.1 298.0 674.2 303.1 674.2 303.1C674.2 303.1 676.9 294.6 677.4 292.7C677.8 290.8 680.2 274.9 680.5 273.9C680.8 272.9 684.1 270.6 684.7 269.7C685.3 268.8 688.7 261.5 688.8 261.4C689.0 261.2 691.0 263.0 691.4 263.2C691.9 263.4 693.6 263.5 694.1 263.5C694.5 263.4 696.2 262.9 696.6 262.6C696.9 262.3 698.7 259.6 699.1 259.4C699.4 259.1 701.1 259.5 701.6 259.3C702.0 259.2 703.7 258.0 704.1 257.6C704.5 257.3 706.2 255.3 706.6 255.1C707.0 254.9 708.7 255.5 709.1 255.4C709.6 255.3 711.2 254.3 711.6 254.3C712.1 254.3 713.7 255.8 714.2 255.8C714.7 255.8 716.2 254.4 716.7 254.4C717.2 254.5 718.8 255.9 719.2 256.0C719.7 256.0 721.3 255.5 721.8 255.4C722.2 255.3 724.2 254.9 724.3 255.1C724.4 255.4 727.2 272.2 727.4 272.9C727.6 273.5 730.1 274.3 730.6 274.7C731.1 275.1 733.3 277.4 733.7 278.1C734.1 278.8 736.3 283.5 736.8 284.8C737.4 286.0 739.3 291.3 740.0 292.7C740.6 294.1 745.4 302.8 746.2 305.2C747.0 307.6 747.7 317.7 749.3 319.8C751.0 322.0 763.3 328.1 765.0 330.2C766.7 332.4 768.5 342.2 769.2 344.8C769.8 347.5 772.7 360.2 773.3 363.6C774.0 367.0 776.9 387.7 777.5 390.7C778.1 393.8 781.1 406.1 781.7 407.4C782.2 408.8 786.5 413.7 786.9 413.7C787.3 413.7 790.7 409.6 791.1 408.5C791.4 407.3 795.5 387.1 796.3 382.4C797.1 377.7 799.7 358.4 800.5 353.2C801.2 347.9 804.0 327.4 804.6 324.0C805.3 320.5 808.8 307.9 809.9 305.2C810.9 302.4 815.8 292.8 817.2 290.6C818.5 288.4 823.7 281.0 825.5 279.1C827.3 277.3 836.0 269.8 838.0 268.7C840.1 267.5 849.1 265.4 850.5 265.1C852.0 264.8 857.4 264.4 858.9 264.5C860.4 264.6 872.6 266.4 875.6 266.6C878.6 266.8 895.5 266.6 896.5 266.6C897.4 266.6 900.8 266.8 901.7 266.6C902.7 266.4 912.0 263.9 914.3 263.5C916.5 263.0 925.2 261.4 926.8 261.4C928.3 261.4 933.6 263.1 935.1 263.5C936.6 263.8 942.0 265.2 943.5 265.6C945.0 265.9 952.1 266.9 953.9 267.6C955.7 268.3 962.5 272.6 964.3 273.9C966.1 275.2 973.0 281.2 974.8 282.2C976.5 283.3 983.2 286.1 985.2 286.4C987.2 286.7 1003.1 286.8 1006.1 286.8C1009.1 286.9 1020.1 287.0 1022.8 286.8C1025.4 286.6 1035.6 285.0 1037.4 284.3C1039.1 283.7 1044.5 279.5 1045.7 278.1C1047.0 276.7 1053.1 266.8 1054.1 265.6C1055.0 264.3 1058.9 260.2 1060.3 259.7C1061.7 259.2 1067.6 259.5 1068.7 260.3C1069.7 261.2 1072.1 268.2 1072.8 269.7C1073.5 271.2 1076.8 278.0 1077.0 278.1C1077.2 278.2 1080.6 274.8 1081.2 273.9C1081.8 273.0 1086.3 263.8 1087.4 262.4C1088.6 261.1 1094.5 258.4 1095.8 257.2C1097.1 256.0 1102.8 248.9 1104.1 247.8C1105.4 246.8 1110.8 243.7 1112.5 243.6C1114.2 243.5 1121.0 246.4 1122.9 246.8C1124.8 247.2 1134.9 248.2 1137.5 248.9C1140.1 249.5 1150.6 253.5 1152.1 254.1C1153.6 254.6 1159.3 256.1 1160.5 257.2C1161.6 258.3 1165.8 265.6 1166.7 267.6C1167.6 269.6 1173.0 285.4 1173.0 285.4C1173.0 285.4 1175.8 279.5 1176.1 278.1C1176.5 276.7 1179.9 258.2 1180.3 257.2C1180.7 256.2 1185.0 253.8 1185.5 254.1C1186.0 254.4 1191.0 261.6 1191.8 263.5C1192.6 265.3 1200.1 287.5 1200.1 287.5C1200.1 287.5 1203.6 273.9 1204.3 271.8C1204.9 269.7 1207.1 262.0 1208.5 260.3C1209.9 258.6 1216.8 254.7 1218.9 254.1C1221.0 253.4 1232.6 252.2 1235.6 252.0C1238.6 251.8 1255.8 251.3 1256.5 251.4C1257.1 251.4 1259.1 252.8 1259.6 253.0C1260.2 253.3 1264.7 255.4 1265.9 255.5C1267.1 255.6 1279.6 254.8 1282.6 254.7C1285.6 254.6 1311.2 254.6 1313.9 254.7C1316.5 254.8 1326.9 256.4 1328.5 256.8C1330.1 257.2 1335.6 260.3 1336.8 260.3C1338.1 260.4 1341.9 257.4 1343.1 257.2C1344.4 257.0 1354.4 257.0 1355.6 257.2C1356.8 257.4 1360.7 259.6 1361.9 259.7C1363.1 259.8 1368.7 258.2 1370.2 258.2C1371.8 258.3 1380.8 259.8 1382.8 260.3C1384.7 260.9 1391.5 263.5 1393.2 264.5C1394.9 265.5 1400.5 271.1 1401.5 271.8C1402.6 272.5 1406.6 275.1 1407.8 274.9C1409.0 274.8 1414.7 270.5 1416.1 269.7C1417.6 268.9 1422.9 265.7 1424.5 265.6C1426.0 265.4 1431.4 267.1 1432.8 267.6C1434.3 268.2 1439.7 271.9 1441.2 272.2C1442.6 272.6 1448.0 271.9 1449.5 271.8C1451.0 271.7 1456.6 271.1 1457.9 271.4C1459.1 271.7 1463.2 274.1 1464.1 274.9C1465.1 275.8 1469.6 280.7 1470.4 282.2C1471.1 283.8 1473.9 294.2 1474.6 296.8C1475.2 299.5 1478.4 316.7 1478.7 317.7C1479.0 318.8 1481.9 322.9 1481.9 322.9C1481.9 322.9 1484.6 315.3 1485.0 313.5C1485.4 311.8 1488.7 291.9 1489.2 290.6C1489.7 289.3 1494.3 287.2 1495.4 286.4C1496.6 285.7 1500.6 282.5 1501.7 282.2C1502.8 282.0 1506.8 283.7 1507.9 283.7C1509.1 283.7 1513.2 281.8 1514.2 282.2C1515.2 282.7 1521.4 288.9 1522.6 290.6C1523.7 292.3 1526.7 301.0 1526.7 301.0C1526.7 301.0 1528.3 295.3 1528.8 294.8C1529.3 294.2 1532.7 293.4 1533.0 293.7C1533.3 294.1 1536.3 303.4 1537.2 305.2C1538.1 307.0 1541.8 313.7 1543.4 314.6C1545.0 315.5 1552.3 313.7 1553.9 314.6C1555.4 315.5 1559.1 322.2 1560.1 324.0C1561.1 325.8 1565.0 335.2 1565.0 335.2C1565.0 335.2 1567.6 323.4 1568.3 321.9C1569.1 320.3 1574.1 316.6 1575.0 315.2C1576.0 313.8 1580.7 303.5 1581.7 301.8C1582.7 300.2 1587.2 294.7 1588.4 293.5C1589.5 292.2 1593.9 288.1 1595.1 286.8C1596.2 285.5 1601.9 277.2 1603.4 276.0C1604.9 274.7 1611.9 271.9 1613.4 271.8C1615.0 271.6 1620.3 274.0 1621.8 274.3C1623.2 274.5 1628.6 274.9 1630.1 274.8C1631.6 274.7 1638.4 273.0 1640.1 273.4C1641.9 273.9 1647.0 278.2 1648.5 279.3C1650.0 280.4 1656.9 285.2 1658.5 286.8C1660.1 288.4 1665.3 295.9 1666.8 296.8C1668.4 297.7 1675.1 297.1 1676.8 297.7C1678.6 298.2 1685.6 302.9 1686.9 302.7C1688.1 302.5 1692.2 296.4 1693.5 295.1C1694.9 293.9 1700.1 289.1 1701.9 288.5C1703.7 287.8 1711.5 287.8 1713.6 287.6C1715.7 287.4 1727.3 285.9 1728.6 286.0C1729.9 286.0 1734.3 287.6 1735.3 288.5C1736.2 289.4 1742.4 299.3 1743.6 300.2C1744.8 301.1 1750.5 300.6 1752.0 301.0C1753.4 301.4 1760.0 305.5 1761.1 305.2C1762.3 304.8 1765.4 297.7 1767.0 296.8C1768.6 295.9 1775.6 296.9 1777.0 296.0C1778.4 295.0 1780.8 287.8 1782.0 286.8C1783.2 285.8 1789.2 284.9 1790.4 285.1C1791.5 285.3 1794.2 289.1 1795.4 289.3C1796.5 289.5 1802.3 288.2 1803.7 287.6C1805.1 287.1 1812.3 282.2 1813.7 281.8C1815.2 281.4 1820.8 281.9 1822.1 282.6C1823.4 283.4 1827.4 289.1 1828.8 290.1C1830.1 291.2 1836.3 294.7 1837.1 294.3C1837.9 293.9 1843.3 282.1 1843.8 281.8C1844.2 281.5 1849.6 285.1 1849.6 285.1"/>
<path stroke-width="4.80" d="M148.3 293.9C148.3 293.9 150.3 293.2 150.7 293.1C151.1 293.0 152.6 292.7 153.1 292.7C153.5 292.7 155.0 293.3 155.4 293.2C155.9 293.2 157.4 292.6 157.8 292.5C158.2 292.4 159.7 292.1 160.1 292.2C160.6 292.2 162.1 292.7 162.5 292.8C162.9 293.0 164.4 293.9 164.9 293.9C165.3 294.0 166.8 293.6 167.2 293.5C167.6 293.5 169.2 293.4 169.6 293.3C170.0 293.2 171.5 291.9 171.9 291.9C172.4 291.8 173.9 292.5 174.3 292.5C174.7 292.5 176.2 291.8 176.7 291.7C177.1 291.6 178.6 291.4 179.0 291.3C179.4 291.3 180.9 291.1 181.4 291.0C181.8 291.0 183.3 291.0 183.7 291.2C184.1 291.3 185.7 292.6 186.1 292.7C186.5 292.9 188.0 292.4 188.4 292.4C188.9 292.3 190.4 292.2 190.8 292.2C191.2 292.2 192.8 292.2 193.2 292.0C193.6 291.9 195.1 290.6 195.5 290.4C195.9 290.3 197.5 290.5 197.9 290.6C198.3 290.7 199.8 291.2 200.2 291.2C200.7 291.2 202.2 290.8 202.6 290.8C203.0 290.8 204.5 291.1 204.9 291.1C205.3 291.2 206.8 291.3 207.2 291.3C207.7 291.3 209.2 291.3 209.6 291.1C209.9 291.0 211.5 289.1 211.9 289.1C212.2 289.0 213.8 290.0 214.2 290.1C214.6 290.2 216.1 290.2 216.5 290.1C216.9 290.1 218.4 289.7 218.8 289.5C219.2 289.4 220.7 288.6 221.1 288.6C221.6 288.5 223.0 289.2 223.5 289.1C223.9 289.1 225.4 287.9 225.8 288.0C226.2 288.1 227.7 289.7 228.1 289.9C228.5 290.0 230.0 289.6 230.4 289.5C230.8 289.4 232.3 288.7 232.7 288.6C233.2 288.4 234.6 287.8 235.1 287.8C235.5 287.8 236.9 289.1 237.4 289.1C237.8 289.1 239.3 288.1 239.7 288.1C240.1 288.1 241.6 288.6 242.0 288.7C242.4 288.7 243.9 288.5 244.3 288.4C244.7 288.3 246.2 287.5 246.6 287.4C247.1 287.3 248.5 287.0 249.0 287.0C249.4 287.0 250.9 287.3 251.3 287.3C251.7 287.2 253.2 286.8 253.6 286.7C254.0 286.6 255.5 285.9 255.9 285.9C256.3 285.8 257.8 285.9 258.2 286.0C258.6 286.1 260.2 287.2 260.6 287.1C260.9 287.0 262.5 285.1 262.9 285.0C263.3 285.0 264.7 286.0 265.2 286.0C265.6 285.9 267.1 284.8 267.6 284.8C268.0 284.8 269.5 286.0 269.9 286.0C270.4 286.1 271.9 285.1 272.3 285.1C272.7 285.1 274.3 285.6 274.7 285.6C275.1 285.6 276.6 285.4 277.1 285.3C277.5 285.3 279.0 284.8 279.4 284.9C279.8 285.0 281.4 286.4 281.8 286.4C282.2 286.3 283.8 284.5 284.2 284.3C284.6 284.2 286.1 284.8 286.5 284.7C287.0 284.7 288.5 284.1 288.9 284.1C289.3 284.1 290.8 285.0 291.3 285.0C291.7 285.0 293.2 284.1 293.6 284.1C294.1 284.0 295.6 284.1 296.0 284.1C296.4 284.2 297.9 285.0 298.4 285.0C298.8 284.9 300.3 283.9 300.8 283.8C301.2 283.8 302.7 284.2 303.1 284.3C303.6 284.4 305.1 285.1 305.5 285.0C305.9 284.9 307.5 283.1 307.9 283.0C308.3 282.8 309.8 282.7 310.2 282.8C310.7 282.8 312.2 282.9 312.6 283.0C313.0 283.2 314.5 284.2 315.0 284.2C315.4 284.3 316.9 283.6 317.4 283.5C317.8 283.4 319.5 283.1 320.0 283.0C320.4 282.8 322.1 281.5 322.6 281.3C323.0 281.1 324.7 280.8 325.2 280.7C325.7 280.6 327.4 280.4 327.8 280.3C328.2 280.2 329.7 279.6 330.1 279.6C330.5 279.6 332.0 280.3 332.4 280.2C332.9 280.2 334.3 279.2 334.7 279.2C335.2 279.3 336.7 280.6 337.1 280.8C337.5 281.0 339.0 281.2 339.4 281.3C339.8 281.3 341.3 281.5 341.7 281.4C342.1 281.4 343.6 280.9 344.0 280.9C344.5 280.9 345.9 281.5 346.3 281.4C346.8 281.4 348.3 280.6 348.7 280.3C349.1 280.1 350.8 278.7 351.2 278.6C351.6 278.4 353.3 278.5 353.7 278.6C354.2 278.7 355.8 279.7 356.3 279.7C356.8 279.7 358.4 278.8 358.8 278.6C359.2 278.4 360.9 277.2 361.3 277.1C361.8 277.1 363.4 277.9 363.9 277.8C364.3 277.7 366.0 276.1 366.4 276.2C366.8 276.2 368.6 278.2 369.0 278.5C369.4 278.9 371.2 280.2 371.6 280.3C372.0 280.5 373.6 280.4 374.0 280.2C374.4 280.0 376.0 278.3 376.4 278.0C376.8 277.8 378.4 277.0 378.8 276.9C379.2 276.8 380.7 276.8 381.2 276.6C381.6 276.5 383.1 275.2 383.5 275.0C383.9 274.8 385.5 274.8 385.9 274.7C386.3 274.6 387.9 273.9 388.3 274.1C388.7 274.2 390.9 276.9 391.4 277.3C391.9 277.6 394.1 278.2 394.6 278.2C395.0 278.2 396.5 277.5 396.9 277.2C397.4 277.0 398.9 276.0 399.3 275.9C399.7 275.7 401.3 275.4 401.7 275.4C402.1 275.3 403.7 275.0 404.1 275.1C404.5 275.1 406.0 276.0 406.5 275.9C406.9 275.9 408.5 274.5 408.9 274.3C409.3 274.2 410.8 274.2 411.3 274.1C411.7 273.9 413.3 273.0 413.8 272.8C414.2 272.6 415.8 271.6 416.3 271.6C416.8 271.6 418.4 273.1 418.9 273.0C419.3 272.9 421.0 271.2 421.4 270.9C421.8 270.6 423.5 269.9 423.9 269.6C424.4 269.4 426.0 268.6 426.5 268.5C426.9 268.5 428.6 268.6 429.0 268.9C429.4 269.1 431.2 270.9 431.6 271.4C432.0 272.0 434.0 276.0 434.2 276.2C434.4 276.3 436.3 274.8 436.7 274.7C437.2 274.7 438.8 275.4 439.2 275.3C439.7 275.2 441.3 273.7 441.7 273.4C442.1 273.2 443.8 272.6 444.2 272.6C444.7 272.5 446.4 272.7 446.7 273.0C447.0 273.4 449.3 277.7 449.9 278.7C450.4 279.8 452.8 284.4 453.0 284.5C453.2 284.6 455.0 282.8 455.5 282.7C455.9 282.5 457.7 283.4 458.0 283.2C458.3 283.0 460.1 280.1 460.5 279.8C460.9 279.6 462.6 279.7 463.0 279.6C463.4 279.4 465.2 278.1 465.5 278.2C465.8 278.4 467.9 281.9 468.3 282.4C468.7 282.9 470.6 284.5 471.1 285.0C471.5 285.5 473.5 288.6 473.9 288.7C474.2 288.8 476.2 287.5 476.6 287.1C477.0 286.7 479.0 283.6 479.4 283.1C479.9 282.5 482.0 280.2 482.2 280.3C482.4 280.4 486.2 286.5 486.4 286.6C486.6 286.7 488.5 284.8 488.9 284.5C489.3 284.3 491.0 283.7 491.4 283.5C491.8 283.2 493.5 281.3 493.9 281.1C494.3 280.9 496.0 280.7 496.4 280.6C496.8 280.4 498.5 279.4 498.9 279.3C499.3 279.1 501.0 278.8 501.4 278.9C501.8 279.0 503.5 280.5 503.9 280.6C504.3 280.8 506.0 280.8 506.4 280.7C506.9 280.7 508.5 280.2 508.9 280.1C509.4 280.1 511.0 280.6 511.4 280.3C511.8 280.1 515.5 276.1 515.6 276.2C515.6 276.2 519.8 292.9 519.8 292.9C519.8 292.9 522.0 289.3 522.4 288.8C522.8 288.3 524.8 286.3 525.0 286.4C525.2 286.5 528.0 291.5 528.2 291.6C528.4 291.7 530.3 289.5 530.8 289.1C531.2 288.8 533.2 287.3 533.4 287.5C533.5 287.6 537.4 296.7 537.6 296.8C537.7 297.0 540.2 295.1 540.7 294.8C541.2 294.6 543.4 293.9 543.8 293.7C544.2 293.6 545.8 293.0 546.2 292.9C546.6 292.8 548.1 292.7 548.5 292.7C548.9 292.8 550.4 293.6 550.9 293.6C551.3 293.6 552.8 292.6 553.2 292.7C553.6 292.8 555.4 294.7 555.8 295.2C556.2 295.7 558.0 298.7 558.4 298.9C558.8 299.2 560.7 298.6 561.2 298.8C561.7 299.0 563.5 300.9 564.0 301.1C564.5 301.3 566.3 300.8 566.8 301.0C567.2 301.3 568.9 303.4 569.4 304.0C569.8 304.6 571.6 307.2 572.0 307.6C572.4 308.1 574.2 309.1 574.6 309.5C575.0 309.8 576.8 311.9 577.2 312.5C577.6 313.1 579.8 318.0 580.3 319.0C580.8 319.9 583.0 323.4 583.5 324.0C583.9 324.6 585.7 326.5 586.2 327.0C586.7 327.6 588.6 329.6 589.0 330.1C589.5 330.5 591.3 331.9 591.8 332.3C592.3 332.7 594.4 334.1 594.9 334.3C595.5 334.6 597.6 335.1 598.1 335.5C598.5 335.8 601.4 339.6 601.6 339.6C601.9 339.6 604.0 335.8 604.5 334.9C605.1 334.1 607.2 331.2 607.5 330.2C607.8 329.3 610.1 318.3 610.6 315.9C611.1 313.6 613.6 303.4 613.7 303.1C613.9 302.8 615.9 303.0 616.3 303.1C616.8 303.2 618.6 304.3 618.9 304.2C619.3 304.0 621.6 300.9 622.1 300.1C622.6 299.4 624.8 295.3 625.2 294.8C625.6 294.2 627.4 292.8 627.8 292.4C628.2 291.9 630.0 289.2 630.4 288.5C630.9 287.8 632.6 284.9 633.0 284.1C633.4 283.2 635.6 278.1 635.6 278.1C635.6 278.1 640.1 286.3 640.2 286.4C640.4 286.5 642.4 284.4 642.9 284.0C643.3 283.7 645.1 282.8 645.5 282.5C645.9 282.2 647.7 280.6 648.1 280.2C648.6 279.7 650.5 277.8 650.9 277.2C651.4 276.7 653.2 274.1 653.7 273.5C654.2 272.8 656.3 269.7 656.5 269.7C656.7 269.7 658.7 272.5 659.1 272.9C659.5 273.3 661.4 274.4 661.7 274.9C662.0 275.4 663.8 279.6 664.2 280.6C664.7 281.6 666.3 285.5 666.7 286.5C667.2 287.5 668.8 291.3 669.2 292.2C669.6 293.1 671.3 296.2 671.7 297.1C672.1 298.0 674.2 303.1 674.2 303.1C674.2 303.1 676.9 294.6 677.4 292.7C677.8 290.8 680.2 274.9 680.5 273.9C680.8 272.9 684.1 270.6 684.7 269.7C685.3 268.8 688.7 261.5 688.8 261.4C689.0 261.2 691.0 263.0 691.4 263.2C691.9 263.4 693.6 263.5 694.1 263.5C694.5 263.4 696.2 262.9 696.6 262.6C696.9 262.3 698.7 259.6 699.1 259.4C699.4 259.1 701.1 259.5 701.6 259.3C702.0 259.2 703.7 258.0 704.1 257.6C704.5 257.3 706.2 255.3 706.6 255.1C707.0 254.9 708.7 255.5 709.1 255.4C709.6 255.3 711.2 254.3 711.6 254.3C712.1 254.3 713.7 255.8 714.2 255.8C714.7 255.8 716.2 254.4 716.7 254.4C717.2 254.5 718.8 255.9 719.2 256.0C719.7 256.0 721.3 255.5 721.8 255.4C722.2 255.3 724.2 254.9 724.3 255.1C724.4 255.4 727.2 272.2 727.4 272.9C727.6 273.5 730.1 274.3 730.6 274.7C731.1 275.1 733.3 277.4 733.7 278.1C734.1 278.8 736.3 283.5 736.8 284.8C737.4 286.0 739.3 291.3 740.0 292.7C740.6 294.1 745.4 302.8 746.2 305.2C747.0 307.6 747.7 317.7 749.3 319.8C751.0 322.0 763.3 328.1 765.0 330.2C766.7 332.4 768.5 342.2 769.2 344.8C769.8 347.5 772.7 360.2 773.3 363.6C774.0 367.0 776.9 387.7 777.5 390.7C778.1 393.8 781.1 406.1 781.7 407.4C782.2 408.8 786.5 413.7 786.9 413.7C787.3 413.7 790.7 409.6 791.1 408.5C791.4 407.3 795.5 387.1 796.3 382.4C797.1 377.7 799.7 358.4 800.5 353.2C801.2 347.9 804.0 327.4 804.6 324.0C805.3 320.5 808.8 307.9 809.9 305.2C810.9 302.4 815.8 292.8 817.2 290.6C818.5 288.4 823.7 281.0 825.5 279.1C827.3 277.3 836.0 269.8 838.0 268.7C840.1 267.5 849.1 265.4 850.5 265.1C852.0 264.8 857.4 264.4 858.9 264.5C860.4 264.6 872.6 266.4 875.6 266.6C878.6 266.8 895.5 266.6 896.5 266.6C897.4 266.6 900.8 266.8 901.7 266.6C902.7 266.4 912.0 263.9 914.3 263.5C916.5 263.0 925.2 261.4 926.8 261.4C928.3 261.4 933.6 263.1 935.1 263.5C936.6 263.8 942.0 265.2 943.5 265.6C945.0 265.9 952.1 266.9 953.9 267.6C955.7 268.3 962.5 272.6 964.3 273.9C966.1 275.2 973.0 281.2 974.8 282.2C976.5 283.3 983.2 286.1 985.2 286.4C987.2 286.7 1003.1 286.8 1006.1 286.8C1009.1 286.9 1020.1 287.0 1022.8 286.8C1025.4 286.6 1035.6 285.0 1037.4 284.3C1039.1 283.7 1044.5 279.5 1045.7 278.1C1047.0 276.7 1053.1 266.8 1054.1 265.6C1055.0 264.3 1058.9 260.2 1060.3 259.7C1061.7 259.2 1067.6 259.5 1068.7 260.3C1069.7 261.2 1072.1 268.2 1072.8 269.7C1073.5 271.2 1076.8 278.0 1077.0 278.1C1077.2 278.2 1080.6 274.8 1081.2 273.9C1081.8 273.0 1086.3 263.8 1087.4 262.4C1088.6 261.1 1094.5 258.4 1095.8 257.2C1097.1 256.0 1102.8 248.9 1104.1 247.8C1105.4 246.8 1110.8 243.7 1112.5 243.6C1114.2 243.5 1121.0 246.4 1122.9 246.8C1124.8 247.2 1134.9 248.2 1137.5 248.9C1140.1 249.5 1150.6 253.5 1152.1 254.1C1153.6 254.6 1159.3 256.1 1160.5 257.2C1161.6 258.3 1165.8 265.6 1166.7 267.6C1167.6 269.6 1173.0 285.4 1173.0 285.4C1173.0 285.4 1175.8 279.5 1176.1 278.1C1176.5 276.7 1179.9 258.2 1180.3 257.2C1180.7 256.2 1185.0 253.8 1185.5 254.1C1186.0 254.4 1191.0 261.6 1191.8 263.5C1192.6 265.3 1200.1 287.5 1200.1 287.5C1200.1 287.5 1203.6 273.9 1204.3 271.8C1204.9 269.7 1207.1 262.0 1208.5 260.3C1209.9 258.6 1216.8 254.7 1218.9 254.1C1221.0 253.4 1232.6 252.2 1235.6 252.0C1238.6 251.8 1255.8 251.3 1256.5 251.4C1257.1 251.4 1259.1 252.8 1259.6 253.0C1260.2 253.3 1264.7 255.4 1265.9 255.5C1267.1 255.6 1279.6 254.8 1282.6 254.7C1285.6 254.6 1311.2 254.6 1313.9 254.7C1316.5 254.8 1326.9 256.4 1328.5 256.8C1330.1 257.2 1335.6 260.3 1336.8 260.3C1338.1 260.4 1341.9 257.4 1343.1 257.2C1344.4 257.0 1354.4 257.0 1355.6 257.2C1356.8 257.4 1360.7 259.6 1361.9 259.7C1363.1 259.8 1368.7 258.2 1370.2 258.2C1371.8 258.3 1380.8 259.8 1382.8 260.3C1384.7 260.9 1391.5 263.5 1393.2 264.5C1394.9 265.5 1400.5 271.1 1401.5 271.8C1402.6 272.5 1406.6 275.1 1407.8 274.9C1409.0 274.8 1414.7 270.5 1416.1 269.7C1417.6 268.9 1422.9 265.7 1424.5 265.6C1426.0 265.4 1431.4 267.1 1432.8 267.6C1434.3 268.2 1439.7 271.9 1441.2 272.2C1442.6 272.6 1448.0 271.9 1449.5 271.8C1451.0 271.7 1456.6 271.1 1457.9 271.4C1459.1 271.7 1463.2 274.1 1464.1 274.9C1465.1 275.8 1469.6 280.7 1470.4 282.2C1471.1 283.8 1473.9 294.2 1474.6 296.8C1475.2 299.5 1478.4 316.7 1478.7 317.7C1479.0 318.8 1481.9 322.9 1481.9 322.9C1481.9 322.9 1484.6 315.3 1485.0 313.5C1485.4 311.8 1488.7 291.9 1489.2 290.6C1489.7 289.3 1494.3 287.2 1495.4 286.4C1496.6 285.7 1500.6 282.5 1501.7 282.2C1502.8 282.0 1506.8 283.7 1507.9 283.7C1509.1 283.7 1513.2 281.8 1514.2 282.2C1515.2 282.7 1521.4 288.9 1522.6 290.6C1523.7 292.3 1526.7 301.0 1526.7 301.0C1526.7 301.0 1528.3 295.3 1528.8 294.8C1529.3 294.2 1532.7 293.4 1533.0 293.7C1533.3 294.1 1536.3 303.4 1537.2 305.2C1538.1 307.0 1541.8 313.7 1543.4 314.6C1545.0 315.5 1552.3 313.7 1553.9 314.6C1555.4 315.5 1559.1 322.2 1560.1 324.0C1561.1 325.8 1565.0 335.2 1565.0 335.2C1565.0 335.2 1567.6 323.4 1568.3 321.9C1569.1 320.3 1574.1 316.6 1575.0 315.2C1576.0 313.8 1580.7 303.5 1581.7 301.8C1582.7 300.2 1587.2 294.7 1588.4 293.5C1589.5 292.2 1593.9 288.1 1595.1 286.8C1596.2 285.5 1601.9 277.2 1603.4 276.0C1604.9 274.7 1611.9 271.9 1613.4 271.8C1615.0 271.6 1620.3 274.0 1621.8 274.3C1623.2 274.5 1628.6 274.9 1630.1 274.8C1631.6 274.7 1638.4 273.0 1640.1 273.4C1641.9 273.9 1647.0 278.2 1648.5 279.3C1650.0 280.4 1656.9 285.2 1658.5 286.8C1660.1 288.4 1665.3 295.9 1666.8 296.8C1668.4 297.7 1675.1 297.1 1676.8 297.7C1678.6 298.2 1685.6 302.9 1686.9 302.7C1688.1 302.5 1692.2 296.4 1693.5 295.1C1694.9 293.9 1700.1 289.1 1701.9 288.5C1703.7 287.8 1711.5 287.8 1713.6 287.6C1715.7 287.4 1727.3 285.9 1728.6 286.0C1729.9 286.0 1734.3 287.6 1735.3 288.5C1736.2 289.4 1742.4 299.3 1743.6 300.2C1744.8 301.1 1750.5 300.6 1752.0 301.0C1753.4 301.4 1760.0 305.5 1761.1 305.2C1762.3 304.8 1765.4 297.7 1767.0 296.8C1768.6 295.9 1775.6 296.9 1777.0 296.0C1778.4 295.0 1780.8 287.8 1782.0 286.8C1783.2 285.8 1789.2 284.9 1790.4 285.1C1791.5 285.3 1794.2 289.1 1795.4 289.3C1796.5 289.5 1802.3 288.2 1803.7 287.6C1805.1 287.1 1812.3 282.2 1813.7 281.8C1815.2 281.4 1820.8 281.9 1822.1 282.6C1823.4 283.4 1827.4 289.1 1828.8 290.1C1830.1 291.2 1836.3 294.7 1837.1 294.3C1837.9 293.9 1843.3 282.1 1843.8 281.8C1844.2 281.5 1849.6 285.1 1849.6 285.1"/>
</g>
<g stroke="#0000ff" fill="#0000ff" stroke-linejoin="round">
<line x1="1065.5" y1="369.2" x2="1037.7" y2="324.2" stroke-width="7.6" stroke-opacity="0.3"/>
<line x1="1065.5" y1="369.2" x2="1037.7" y2="324.2" stroke-width="4.6"/>
<polygon points="1019.2,295.0 1029.4,329.1 1046.1,319.3" stroke-width="2.4" stroke-opacity="0.3" fill="none"/>
<polygon points="1019.2,295.0 1029.4,329.1 1046.1,319.3" stroke="none"/>
</g>
<g stroke="#0000ff" fill="#0000ff" stroke-linejoin="round">
<line x1="1124.3" y1="388.4" x2="1153.4" y2="323.4" stroke-width="7.6" stroke-opacity="0.3"/>
<line x1="1124.3" y1="388.4" x2="1153.4" y2="323.4" stroke-width="4.6"/>
<polygon points="1165.7,292.6 1144.1,319.8 1162.8,327.0" stroke-width="2.4" stroke-opacity="0.3" fill="none"/>
<polygon points="1165.7,292.6 1144.1,319.8 1162.8,327.0" stroke="none"/>
</g>
<g stroke="#ff0000" fill="#ff0000" stroke-linejoin="round">
<line x1="1068.7" y1="483.4" x2="1030.3" y2="561.8" stroke-width="7.6" stroke-opacity="0.3"/>
<line x1="1068.7" y1="483.4" x2="1030.3" y2="561.8" stroke-width="4.6"/>
<polygon points="1017.5,588.8 1021.4,557.4 1039.1,566.2" stroke-width="2.4" stroke-opacity="0.3" fill="none"/>
<polygon points="1017.5,588.8 1021.4,557.4 1039.1,566.2" stroke="none"/>
</g>
<g stroke="#ff0000" fill="#ff0000" stroke-linejoin="round">
<line x1="1119.8" y1="474.0" x2="1141.3" y2="527.0" stroke-width="7.6" stroke-opacity="0.3"/>
<line x1="1119.8" y1="474.0" x2="1141.3" y2="527.0" stroke-width="4.6"/>
<polygon points="1152.1,557.5 1132.5,530.0 1150.1,524.1" stroke-width="2.4" stroke-opacity="0.3" fill="none"/>
<polygon points="1152.1,557.5 1132.5,530.0 1150.1,524.1" stroke="none"/>
</g>
<text transform="translate(147.40,1366.00) scale(1.0000,1.0450)" font-size="74.6" text-anchor="middle">2000</text>
<text transform="translate(360.15,1366.00) scale(1.0000,1.0450)" font-size="74.6" text-anchor="middle">1800</text>
<text transform="translate(572.90,1366.00) scale(1.0000,1.0450)" font-size="74.6" text-anchor="middle">1600</text>
<text transform="translate(785.65,1366.00) scale(1.0000,1.0450)" font-size="74.6" text-anchor="middle">1400</text>
<text transform="translate(998.40,1366.00) scale(1.0000,1.0450)" font-size="74.6" text-anchor="middle">1200</text>
<text transform="translate(1211.15,1366.00) scale(1.0000,1.0450)" font-size="74.6" text-anchor="middle">1000</text>
<text transform="translate(1423.90,1366.00) scale(1.0000,1.0450)" font-size="74.6" text-anchor="middle">800</text>
<text transform="translate(1636.65,1366.00) scale(1.0000,1.0450)" font-size="74.6" text-anchor="middle">600</text>
<text transform="translate(1849.40,1366.00) scale(1.0000,1.0450)" font-size="74.6" text-anchor="middle">400</text>
<text transform="translate(644.80,1466.80)" font-size="79.5" text-anchor="start" letter-spacing="0.35">Wavenumbers (cm<tspan font-size="49" dx="-3.5" dy="-32.5">-1</tspan><tspan dx="-0.5" dy="32.5">)</tspan></text>
<text transform="translate(78.30,656.00) rotate(-90) scale(1.0000,1.0300)" font-size="82" text-anchor="middle">Transmittance (%)</text>
<text transform="translate(226.20,172.60) scale(1.0000,1.0400)" font-size="52.6" text-anchor="start">PTSA/UiO-66</text>
<text transform="translate(226.20,465.60) scale(1.0000,1.0400)" font-size="52.6" text-anchor="start">MSA/UiO-66</text>
<text transform="translate(248.20,737.20) scale(1.0000,1.0400)" font-size="52.6" text-anchor="start">UiO-66</text>
<text transform="translate(1048.50,438.30) scale(1.1500,1.0000)" font-size="79" text-anchor="start" stroke="#fff" stroke-width="3.00">ν</text>
<text transform="translate(1087.50,463.00) scale(1.0000,1.0400)" font-size="37.5" text-anchor="start" stroke="#fff" stroke-width="1.00">S<tspan fill="#b4b4b4" stroke="#b4b4b4" stroke-width="3.2">=</tspan>O</text>
</svg>
</body></html>
